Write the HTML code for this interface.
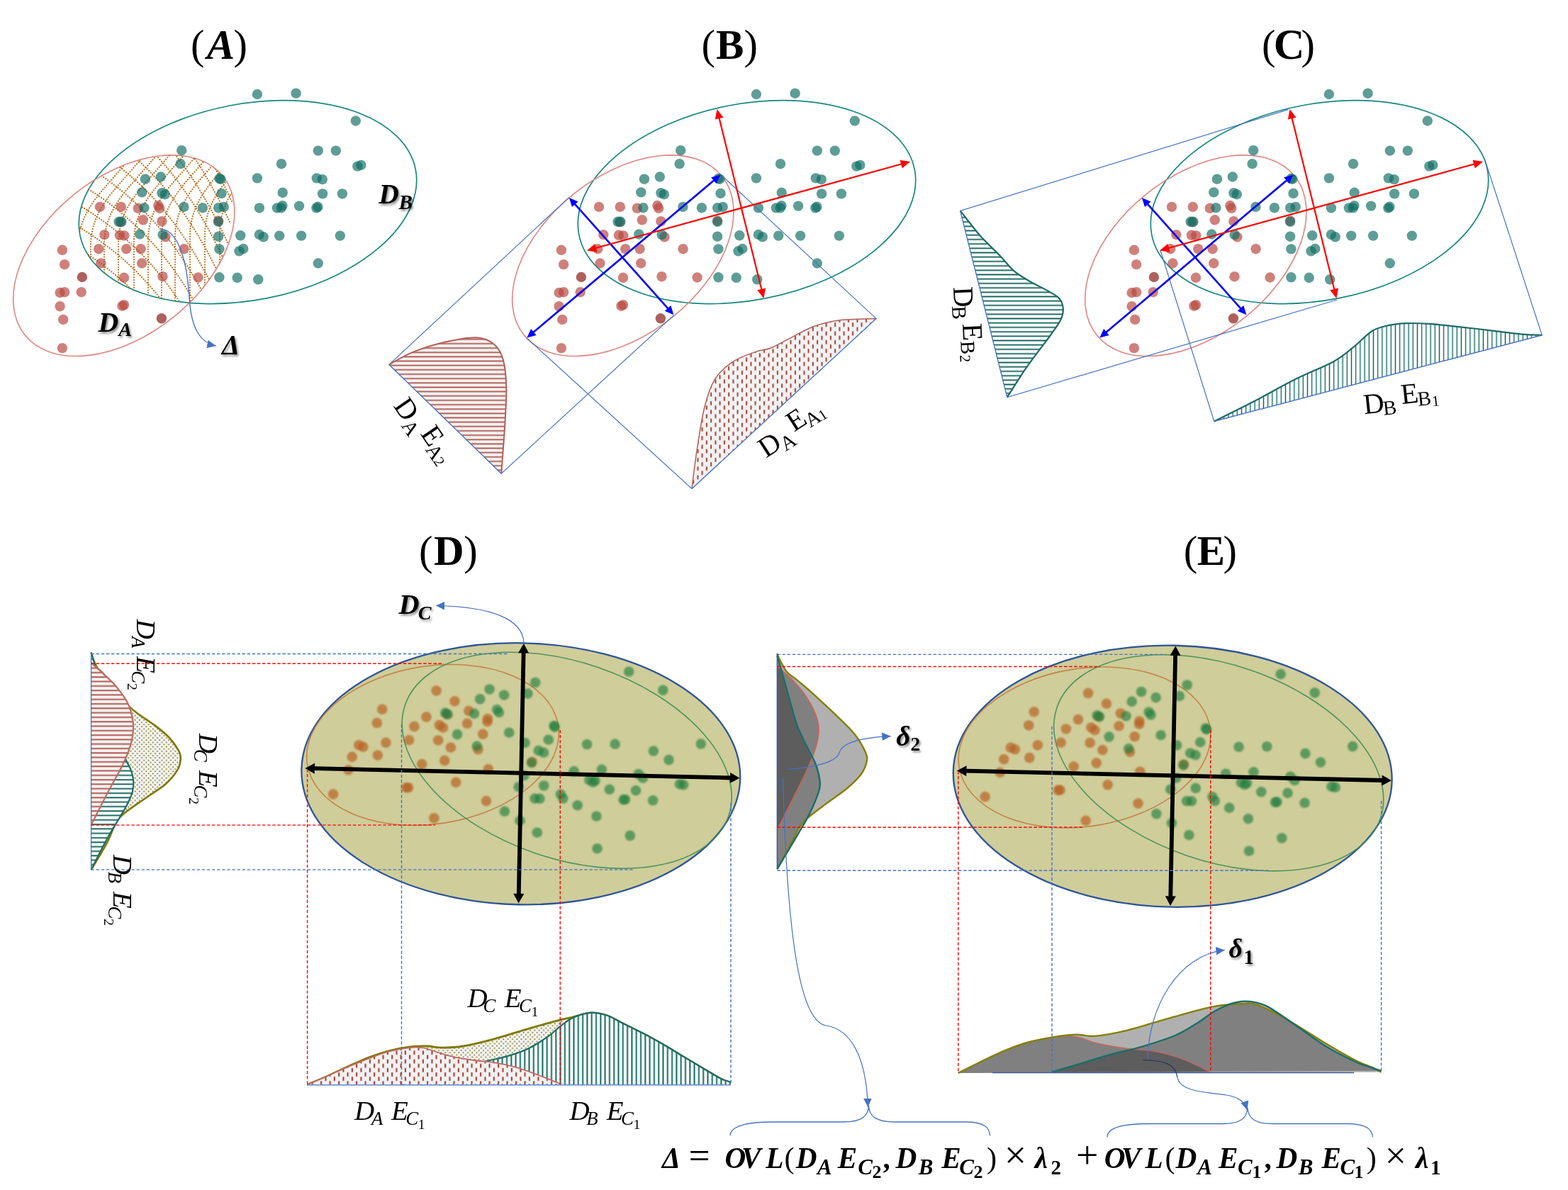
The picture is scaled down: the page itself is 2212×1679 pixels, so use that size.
<!DOCTYPE html>
<html><head><meta charset="utf-8"><title>figure</title>
<style>html,body{margin:0;padding:0;background:#fff;overflow:hidden;}svg{display:block;}</style></head>
<body><svg width="2212" height="1679" viewBox="0 0 2212 1679">
<defs>
<filter id="sh" x="-20%" y="-20%" width="150%" height="150%"><feDropShadow dx="2" dy="2.5" stdDeviation="1.6" flood-color="#000" flood-opacity="0.45"/></filter>
<filter id="soft" x="-30%" y="-30%" width="160%" height="160%"><feGaussianBlur stdDeviation="0.7"/></filter>
<filter id="soft2" x="-30%" y="-30%" width="160%" height="160%"><feGaussianBlur stdDeviation="1.0"/></filter>
<marker id="mB" markerUnits="userSpaceOnUse" markerWidth="12.5" markerHeight="11.5" refX="0.5" refY="5.75" orient="auto-start-reverse" viewBox="0 0 12.5 11.5" overflow="visible"><path d="M0,0 L12.5,5.75 L0,11.5 z" fill="#0000ff"/></marker>
<marker id="mR" markerUnits="userSpaceOnUse" markerWidth="13.5" markerHeight="12" refX="0.5" refY="6.0" orient="auto-start-reverse" viewBox="0 0 13.5 12" overflow="visible"><path d="M0,0 L13.5,6.0 L0,12 z" fill="#ff0000"/></marker>
<marker id="mK" markerUnits="userSpaceOnUse" markerWidth="13.5" markerHeight="15" refX="0.5" refY="7.5" orient="auto-start-reverse" viewBox="0 0 13.5 15" overflow="visible"><path d="M0,0 L13.5,7.5 L0,15 z" fill="#000"/></marker>
<marker id="mL" markerUnits="userSpaceOnUse" markerWidth="12.3" markerHeight="11.7" refX="12.3" refY="5.85" orient="auto-start-reverse" viewBox="0 0 12.3 11.7"><path d="M0,0 L12.3,5.85 L0,11.7 z" fill="#4472c4"/></marker>
<pattern id="pHR" patternUnits="userSpaceOnUse" width="20" height="6.15" y="2.2"><rect width="20" height="6.15" fill="#f2f2f2"/><line x1="0" y1="3" x2="20" y2="3" stroke="#b0544a" stroke-width="1.8"/></pattern>
<pattern id="pHT" patternUnits="userSpaceOnUse" width="20" height="6.2"><rect width="20" height="6.2" fill="#fff"/><line x1="0" y1="3.1" x2="20" y2="3.1" stroke="#0d5f55" stroke-width="1.8"/></pattern>
<pattern id="pVR" patternUnits="userSpaceOnUse" width="12.5" height="12.3"><rect width="12.5" height="12.3" fill="#f2f2f2"/><line x1="3.1" y1="0.2" x2="3.1" y2="6" stroke="#9e2a1f" stroke-width="1.8"/><line x1="9.4" y1="6.35" x2="9.4" y2="12.1" stroke="#9e2a1f" stroke-width="1.8"/></pattern>
<pattern id="pVT" patternUnits="userSpaceOnUse" width="6.2" height="20"><rect width="6.2" height="20" fill="#fff"/><line x1="3.1" y1="0" x2="3.1" y2="20" stroke="#0d6a5e" stroke-width="1.4"/></pattern>
<pattern id="pDO" patternUnits="userSpaceOnUse" width="6.3" height="6.3"><rect width="6.3" height="6.3" fill="#f2f2f2"/><circle cx="1.6" cy="1.6" r="0.95" fill="#746e00"/><circle cx="4.75" cy="4.75" r="0.95" fill="#746e00"/></pattern>
<pattern id="pHR2" patternUnits="userSpaceOnUse" width="20" height="6.3" y="1"><rect width="20" height="6.3" fill="#f2f2f2"/><line x1="0" y1="3" x2="20" y2="3" stroke="#b0544a" stroke-width="1.9"/></pattern>
<pattern id="pHT2" patternUnits="userSpaceOnUse" width="20" height="6.3" y="1"><rect width="20" height="6.3" fill="#fff"/><line x1="0" y1="3" x2="20" y2="3" stroke="#0f6259" stroke-width="1.9"/></pattern>
<pattern id="pVT2" patternUnits="userSpaceOnUse" width="6.3" height="20"><rect width="6.3" height="20" fill="#fff"/><line x1="3.1" y1="0" x2="3.1" y2="20" stroke="#0f6a5f" stroke-width="2"/></pattern>
<pattern id="pVR2" patternUnits="userSpaceOnUse" width="12.5" height="12.3"><rect width="12.5" height="12.3" fill="#f2f2f2"/><line x1="3.1" y1="0.2" x2="3.1" y2="6" stroke="#9e2a1f" stroke-width="1.9"/><line x1="9.4" y1="6.35" x2="9.4" y2="12.1" stroke="#9e2a1f" stroke-width="1.9"/></pattern>
<clipPath id="cRedA"><ellipse cx="174.8" cy="360.7" rx="179.1" ry="111.4" transform="rotate(-38.75 174.8 360.7)" /></clipPath>
<clipPath id="cTealA"><ellipse cx="349.5" cy="285.1" rx="241.2" ry="138.4" transform="rotate(-11.0 349.5 285.1)" /></clipPath>
</defs>
<rect width="2212" height="1679" fill="#fff"/>
<ellipse cx="349.5" cy="285.1" rx="241.2" ry="138.4" transform="rotate(-11.0 349.5 285.1)" fill="none" stroke="#168782" stroke-width="1.7"/>
<ellipse cx="174.8" cy="360.7" rx="179.1" ry="111.4" transform="rotate(-38.75 174.8 360.7)" fill="none" stroke="#df8680" stroke-width="1.6"/>
<ellipse cx="1053.5" cy="285.1" rx="241.2" ry="138.4" transform="rotate(-11.0 1053.5 285.1)" fill="none" stroke="#168782" stroke-width="1.7"/>
<ellipse cx="878.8" cy="360.7" rx="179.1" ry="111.4" transform="rotate(-38.75 878.8 360.7)" fill="none" stroke="#df8680" stroke-width="1.6"/>
<ellipse cx="1861.5" cy="285.1" rx="241.2" ry="138.4" transform="rotate(-11.0 1861.5 285.1)" fill="none" stroke="#168782" stroke-width="1.7"/>
<ellipse cx="1686.8" cy="360.7" rx="179.1" ry="111.4" transform="rotate(-38.75 1686.8 360.7)" fill="none" stroke="#df8680" stroke-width="1.6"/>
<g clip-path="url(#cRedA)"><g clip-path="url(#cTealA)"><path d="M118,-14 C198,30 268,86 333,226 M115,15 C195,59 265,115 330,255 M112,44 C192,88 262,144 327,284 M109,73 C189,117 259,173 324,313 M106,102 C186,146 256,202 321,342 M103,131 C183,175 253,231 318,371 M100,160 C180,204 250,260 315,400 M97,189 C177,233 247,289 312,429 M94,218 C174,262 244,318 309,458 M91,247 C171,291 241,347 306,487 M88,276 C168,320 238,376 303,516 M85,305 C165,349 235,405 300,545 M82,334 C162,378 232,434 297,574 M79,363 C159,407 229,463 294,603 M76,392 C156,436 226,492 291,632 M73,421 C153,465 223,521 288,661 M70,450 C150,494 220,550 285,690 M67,479 C147,523 217,579 282,719 M64,508 C144,552 214,608 279,748 M61,537 C141,581 211,637 276,777 M110,460 L110,350 C110,315 125,290 150,262 L340,44 M128,460 L128,348 C128,313 143,288 168,260 L358,42 M147,460 L147,346 C147,311 162,286 187,258 L377,40 M167,460 L167,344 C167,309 182,284 207,256 L397,38 M189,460 L189,342 C189,307 204,282 229,254 L419,36 M209,460 L209,340 C209,305 224,280 249,252 L439,34 M228,460 L228,338 C228,303 243,278 268,250 L458,32 M247,460 L247,336 C247,301 262,276 287,248 L477,30 M268,460 L268,334 C268,299 283,274 308,246 L498,28 M289,460 L289,332 C289,297 304,272 329,244 L519,26 M310,460 L310,330 C310,295 325,270 350,242 L540,24 M330,460 L330,328 C330,293 345,268 370,240 L560,22" fill="none" stroke="#b0660c" stroke-width="2.1" stroke-dasharray="0.01,3.6" stroke-linecap="round"/></g></g>
<g filter="url(#soft)"><circle cx="141.0" cy="291.9" r="7.2" fill="rgb(184,69,62)" fill-opacity="0.68"/><circle cx="170.8" cy="291.9" r="7.2" fill="rgb(184,69,62)" fill-opacity="0.68"/><circle cx="194.8" cy="293.8" r="7.2" fill="rgb(184,69,62)" fill-opacity="0.68"/><circle cx="223.3" cy="290.0" r="7.2" fill="rgb(184,69,62)" fill-opacity="0.68"/><circle cx="225.2" cy="293.8" r="7.2" fill="rgb(184,69,62)" fill-opacity="0.68"/><circle cx="170.1" cy="313.4" r="7.2" fill="rgb(184,69,62)" fill-opacity="0.68"/><circle cx="201.8" cy="310.3" r="7.2" fill="rgb(184,69,62)" fill-opacity="0.68"/><circle cx="228.4" cy="312.2" r="7.2" fill="rgb(184,69,62)" fill-opacity="0.68"/><circle cx="308.1" cy="311.5" r="7.2" fill="rgb(184,69,62)" fill-opacity="0.68"/><circle cx="147.3" cy="331.1" r="7.2" fill="rgb(184,69,62)" fill-opacity="0.68"/><circle cx="168.9" cy="331.8" r="7.2" fill="rgb(184,69,62)" fill-opacity="0.68"/><circle cx="175.2" cy="332.4" r="7.2" fill="rgb(184,69,62)" fill-opacity="0.68"/><circle cx="233.4" cy="334.3" r="7.2" fill="rgb(184,69,62)" fill-opacity="0.68"/><circle cx="87.9" cy="352.8" r="7.2" fill="rgb(184,69,62)" fill-opacity="0.68"/><circle cx="139.2" cy="351.2" r="7.2" fill="rgb(184,69,62)" fill-opacity="0.68"/><circle cx="178.2" cy="351.2" r="7.2" fill="rgb(184,69,62)" fill-opacity="0.68"/><circle cx="198.6" cy="351.2" r="7.2" fill="rgb(184,69,62)" fill-opacity="0.68"/><circle cx="259.6" cy="351.2" r="7.2" fill="rgb(184,69,62)" fill-opacity="0.68"/><circle cx="91.1" cy="373.1" r="7.2" fill="rgb(184,69,62)" fill-opacity="0.68"/><circle cx="142.4" cy="371.5" r="7.2" fill="rgb(184,69,62)" fill-opacity="0.68"/><circle cx="200.2" cy="371.5" r="7.2" fill="rgb(184,69,62)" fill-opacity="0.68"/><circle cx="115.9" cy="391.0" r="7.2" fill="rgb(160,72,66)" fill-opacity="0.86"/><circle cx="175.0" cy="391.8" r="7.2" fill="rgb(184,69,62)" fill-opacity="0.68"/><circle cx="229.5" cy="390.2" r="7.2" fill="rgb(184,69,62)" fill-opacity="0.68"/><circle cx="279.6" cy="391.5" r="7.2" fill="rgb(184,69,62)" fill-opacity="0.68"/><circle cx="84.6" cy="413.0" r="7.2" fill="rgb(184,69,62)" fill-opacity="0.68"/><circle cx="91.1" cy="412.2" r="7.2" fill="rgb(184,69,62)" fill-opacity="0.68"/><circle cx="114.7" cy="412.2" r="7.2" fill="rgb(184,69,62)" fill-opacity="0.68"/><circle cx="84.6" cy="432.2" r="7.2" fill="rgb(184,69,62)" fill-opacity="0.68"/><circle cx="172.5" cy="431.7" r="7.2" fill="rgb(184,69,62)" fill-opacity="0.68"/><circle cx="175.0" cy="430.1" r="7.2" fill="rgb(184,69,62)" fill-opacity="0.68"/><circle cx="89.2" cy="450.9" r="7.2" fill="rgb(184,69,62)" fill-opacity="0.68"/><circle cx="227.9" cy="449.3" r="7.2" fill="rgb(160,72,66)" fill-opacity="0.86"/><circle cx="87.9" cy="491.1" r="7.2" fill="rgb(184,69,62)" fill-opacity="0.68"/><circle cx="362.9" cy="133.0" r="7.2" fill="rgb(15,110,100)" fill-opacity="0.68"/><circle cx="417.6" cy="131.7" r="7.2" fill="rgb(15,110,100)" fill-opacity="0.68"/><circle cx="501.8" cy="170.5" r="7.2" fill="rgb(15,110,100)" fill-opacity="0.68"/><circle cx="256.2" cy="212.2" r="7.2" fill="rgb(15,110,100)" fill-opacity="0.68"/><circle cx="254.6" cy="231.1" r="7.2" fill="rgb(15,110,100)" fill-opacity="0.68"/><circle cx="448.8" cy="212.6" r="7.2" fill="rgb(15,110,100)" fill-opacity="0.68"/><circle cx="473.8" cy="212.6" r="7.2" fill="rgb(15,110,100)" fill-opacity="0.68"/><circle cx="397.0" cy="231.2" r="7.2" fill="rgb(15,110,100)" fill-opacity="0.68"/><circle cx="504.3" cy="234.6" r="7.2" fill="rgb(15,110,100)" fill-opacity="0.68"/><circle cx="509.3" cy="232.9" r="7.2" fill="rgb(15,110,100)" fill-opacity="0.68"/><circle cx="204.9" cy="252.7" r="7.2" fill="rgb(15,110,100)" fill-opacity="0.68"/><circle cx="226.8" cy="249.5" r="7.2" fill="rgb(15,110,100)" fill-opacity="0.68"/><circle cx="309.4" cy="252.0" r="7.2" fill="rgb(15,110,100)" fill-opacity="0.68"/><circle cx="311.3" cy="252.7" r="7.2" fill="rgb(15,110,100)" fill-opacity="0.68"/><circle cx="362.9" cy="251.4" r="7.2" fill="rgb(15,110,100)" fill-opacity="0.68"/><circle cx="446.8" cy="251.4" r="7.2" fill="rgb(15,110,100)" fill-opacity="0.68"/><circle cx="454.8" cy="253.1" r="7.2" fill="rgb(15,110,100)" fill-opacity="0.68"/><circle cx="200.3" cy="271.4" r="7.2" fill="rgb(15,110,100)" fill-opacity="0.68"/><circle cx="228.4" cy="272.3" r="7.2" fill="rgb(15,110,100)" fill-opacity="0.68"/><circle cx="232.8" cy="274.2" r="7.2" fill="rgb(15,110,100)" fill-opacity="0.68"/><circle cx="312.5" cy="272.9" r="7.2" fill="rgb(15,110,100)" fill-opacity="0.68"/><circle cx="398.7" cy="271.8" r="7.2" fill="rgb(15,110,100)" fill-opacity="0.68"/><circle cx="455.1" cy="273.4" r="7.2" fill="rgb(15,110,100)" fill-opacity="0.68"/><circle cx="482.9" cy="273.4" r="7.2" fill="rgb(15,110,100)" fill-opacity="0.68"/><circle cx="203.4" cy="293.2" r="7.2" fill="rgb(15,110,100)" fill-opacity="0.68"/><circle cx="259.4" cy="291.9" r="7.2" fill="rgb(15,110,100)" fill-opacity="0.68"/><circle cx="285.9" cy="293.2" r="7.2" fill="rgb(15,110,100)" fill-opacity="0.68"/><circle cx="308.1" cy="293.2" r="7.2" fill="rgb(15,110,100)" fill-opacity="0.68"/><circle cx="315.7" cy="291.9" r="7.2" fill="rgb(15,110,100)" fill-opacity="0.68"/><circle cx="365.9" cy="293.4" r="7.2" fill="rgb(15,110,100)" fill-opacity="0.68"/><circle cx="390.9" cy="293.4" r="7.2" fill="rgb(15,110,100)" fill-opacity="0.68"/><circle cx="396.7" cy="293.4" r="7.2" fill="rgb(15,110,100)" fill-opacity="0.68"/><circle cx="398.4" cy="290.1" r="7.2" fill="rgb(15,110,100)" fill-opacity="0.68"/><circle cx="422.1" cy="290.6" r="7.2" fill="rgb(15,110,100)" fill-opacity="0.68"/><circle cx="446.4" cy="293.4" r="7.2" fill="rgb(15,110,100)" fill-opacity="0.68"/><circle cx="448.4" cy="291.8" r="7.2" fill="rgb(15,110,100)" fill-opacity="0.68"/><circle cx="167.6" cy="312.8" r="7.2" fill="rgb(15,110,100)" fill-opacity="0.68"/><circle cx="171.4" cy="312.8" r="7.2" fill="rgb(15,110,100)" fill-opacity="0.68"/><circle cx="308.1" cy="312.8" r="7.2" fill="rgb(15,110,100)" fill-opacity="0.68"/><circle cx="197.3" cy="330.5" r="7.2" fill="rgb(15,110,100)" fill-opacity="0.68"/><circle cx="229.6" cy="331.1" r="7.2" fill="rgb(15,110,100)" fill-opacity="0.68"/><circle cx="308.1" cy="333.7" r="7.2" fill="rgb(15,110,100)" fill-opacity="0.68"/><circle cx="339.2" cy="332.3" r="7.2" fill="rgb(15,110,100)" fill-opacity="0.68"/><circle cx="365.9" cy="331.0" r="7.2" fill="rgb(15,110,100)" fill-opacity="0.68"/><circle cx="371.7" cy="334.3" r="7.2" fill="rgb(15,110,100)" fill-opacity="0.68"/><circle cx="394.2" cy="332.6" r="7.2" fill="rgb(15,110,100)" fill-opacity="0.68"/><circle cx="425.1" cy="332.6" r="7.2" fill="rgb(15,110,100)" fill-opacity="0.68"/><circle cx="479.8" cy="332.6" r="7.2" fill="rgb(15,110,100)" fill-opacity="0.68"/><circle cx="309.4" cy="351.4" r="7.2" fill="rgb(15,110,100)" fill-opacity="0.68"/><circle cx="337.5" cy="354.3" r="7.2" fill="rgb(15,110,100)" fill-opacity="0.68"/><circle cx="343.3" cy="351.0" r="7.2" fill="rgb(15,110,100)" fill-opacity="0.68"/><circle cx="448.8" cy="371.5" r="7.2" fill="rgb(15,110,100)" fill-opacity="0.68"/><circle cx="309.4" cy="391.3" r="7.2" fill="rgb(15,110,100)" fill-opacity="0.68"/><circle cx="334.7" cy="391.8" r="7.2" fill="rgb(15,110,100)" fill-opacity="0.68"/><circle cx="364.2" cy="394.3" r="7.2" fill="rgb(15,110,100)" fill-opacity="0.68"/></g>
<g filter="url(#soft)"><circle cx="845.0" cy="291.9" r="7.2" fill="rgb(184,69,62)" fill-opacity="0.68"/><circle cx="874.8" cy="291.9" r="7.2" fill="rgb(184,69,62)" fill-opacity="0.68"/><circle cx="898.8" cy="293.8" r="7.2" fill="rgb(184,69,62)" fill-opacity="0.68"/><circle cx="927.3" cy="290.0" r="7.2" fill="rgb(184,69,62)" fill-opacity="0.68"/><circle cx="929.2" cy="293.8" r="7.2" fill="rgb(184,69,62)" fill-opacity="0.68"/><circle cx="874.1" cy="313.4" r="7.2" fill="rgb(184,69,62)" fill-opacity="0.68"/><circle cx="905.8" cy="310.3" r="7.2" fill="rgb(184,69,62)" fill-opacity="0.68"/><circle cx="932.4" cy="312.2" r="7.2" fill="rgb(184,69,62)" fill-opacity="0.68"/><circle cx="1012.1" cy="311.5" r="7.2" fill="rgb(184,69,62)" fill-opacity="0.68"/><circle cx="851.3" cy="331.1" r="7.2" fill="rgb(184,69,62)" fill-opacity="0.68"/><circle cx="872.9" cy="331.8" r="7.2" fill="rgb(184,69,62)" fill-opacity="0.68"/><circle cx="879.2" cy="332.4" r="7.2" fill="rgb(184,69,62)" fill-opacity="0.68"/><circle cx="937.4" cy="334.3" r="7.2" fill="rgb(184,69,62)" fill-opacity="0.68"/><circle cx="791.9" cy="352.8" r="7.2" fill="rgb(184,69,62)" fill-opacity="0.68"/><circle cx="843.2" cy="351.2" r="7.2" fill="rgb(184,69,62)" fill-opacity="0.68"/><circle cx="882.2" cy="351.2" r="7.2" fill="rgb(184,69,62)" fill-opacity="0.68"/><circle cx="902.6" cy="351.2" r="7.2" fill="rgb(184,69,62)" fill-opacity="0.68"/><circle cx="963.6" cy="351.2" r="7.2" fill="rgb(184,69,62)" fill-opacity="0.68"/><circle cx="795.1" cy="373.1" r="7.2" fill="rgb(184,69,62)" fill-opacity="0.68"/><circle cx="846.4" cy="371.5" r="7.2" fill="rgb(184,69,62)" fill-opacity="0.68"/><circle cx="904.2" cy="371.5" r="7.2" fill="rgb(184,69,62)" fill-opacity="0.68"/><circle cx="819.9" cy="391.0" r="7.2" fill="rgb(160,72,66)" fill-opacity="0.86"/><circle cx="879.0" cy="391.8" r="7.2" fill="rgb(184,69,62)" fill-opacity="0.68"/><circle cx="933.5" cy="390.2" r="7.2" fill="rgb(184,69,62)" fill-opacity="0.68"/><circle cx="983.6" cy="391.5" r="7.2" fill="rgb(184,69,62)" fill-opacity="0.68"/><circle cx="788.6" cy="413.0" r="7.2" fill="rgb(184,69,62)" fill-opacity="0.68"/><circle cx="795.1" cy="412.2" r="7.2" fill="rgb(184,69,62)" fill-opacity="0.68"/><circle cx="818.7" cy="412.2" r="7.2" fill="rgb(184,69,62)" fill-opacity="0.68"/><circle cx="788.6" cy="432.2" r="7.2" fill="rgb(184,69,62)" fill-opacity="0.68"/><circle cx="876.5" cy="431.7" r="7.2" fill="rgb(184,69,62)" fill-opacity="0.68"/><circle cx="879.0" cy="430.1" r="7.2" fill="rgb(184,69,62)" fill-opacity="0.68"/><circle cx="793.2" cy="450.9" r="7.2" fill="rgb(184,69,62)" fill-opacity="0.68"/><circle cx="931.9" cy="449.3" r="7.2" fill="rgb(160,72,66)" fill-opacity="0.86"/><circle cx="791.9" cy="491.1" r="7.2" fill="rgb(184,69,62)" fill-opacity="0.68"/><circle cx="1066.9" cy="133.0" r="7.2" fill="rgb(15,110,100)" fill-opacity="0.68"/><circle cx="1121.6" cy="131.7" r="7.2" fill="rgb(15,110,100)" fill-opacity="0.68"/><circle cx="1205.8" cy="170.5" r="7.2" fill="rgb(15,110,100)" fill-opacity="0.68"/><circle cx="960.2" cy="212.2" r="7.2" fill="rgb(15,110,100)" fill-opacity="0.68"/><circle cx="958.6" cy="231.1" r="7.2" fill="rgb(15,110,100)" fill-opacity="0.68"/><circle cx="1152.8" cy="212.6" r="7.2" fill="rgb(15,110,100)" fill-opacity="0.68"/><circle cx="1177.8" cy="212.6" r="7.2" fill="rgb(15,110,100)" fill-opacity="0.68"/><circle cx="1101.0" cy="231.2" r="7.2" fill="rgb(15,110,100)" fill-opacity="0.68"/><circle cx="1208.3" cy="234.6" r="7.2" fill="rgb(15,110,100)" fill-opacity="0.68"/><circle cx="1213.3" cy="232.9" r="7.2" fill="rgb(15,110,100)" fill-opacity="0.68"/><circle cx="908.9" cy="252.7" r="7.2" fill="rgb(15,110,100)" fill-opacity="0.68"/><circle cx="930.8" cy="249.5" r="7.2" fill="rgb(15,110,100)" fill-opacity="0.68"/><circle cx="1013.4" cy="252.0" r="7.2" fill="rgb(15,110,100)" fill-opacity="0.68"/><circle cx="1015.3" cy="252.7" r="7.2" fill="rgb(15,110,100)" fill-opacity="0.68"/><circle cx="1066.9" cy="251.4" r="7.2" fill="rgb(15,110,100)" fill-opacity="0.68"/><circle cx="1150.8" cy="251.4" r="7.2" fill="rgb(15,110,100)" fill-opacity="0.68"/><circle cx="1158.8" cy="253.1" r="7.2" fill="rgb(15,110,100)" fill-opacity="0.68"/><circle cx="904.3" cy="271.4" r="7.2" fill="rgb(15,110,100)" fill-opacity="0.68"/><circle cx="932.4" cy="272.3" r="7.2" fill="rgb(15,110,100)" fill-opacity="0.68"/><circle cx="936.8" cy="274.2" r="7.2" fill="rgb(15,110,100)" fill-opacity="0.68"/><circle cx="1016.5" cy="272.9" r="7.2" fill="rgb(15,110,100)" fill-opacity="0.68"/><circle cx="1102.7" cy="271.8" r="7.2" fill="rgb(15,110,100)" fill-opacity="0.68"/><circle cx="1159.1" cy="273.4" r="7.2" fill="rgb(15,110,100)" fill-opacity="0.68"/><circle cx="1186.9" cy="273.4" r="7.2" fill="rgb(15,110,100)" fill-opacity="0.68"/><circle cx="907.4" cy="293.2" r="7.2" fill="rgb(15,110,100)" fill-opacity="0.68"/><circle cx="963.4" cy="291.9" r="7.2" fill="rgb(15,110,100)" fill-opacity="0.68"/><circle cx="989.9" cy="293.2" r="7.2" fill="rgb(15,110,100)" fill-opacity="0.68"/><circle cx="1012.1" cy="293.2" r="7.2" fill="rgb(15,110,100)" fill-opacity="0.68"/><circle cx="1019.7" cy="291.9" r="7.2" fill="rgb(15,110,100)" fill-opacity="0.68"/><circle cx="1069.9" cy="293.4" r="7.2" fill="rgb(15,110,100)" fill-opacity="0.68"/><circle cx="1094.9" cy="293.4" r="7.2" fill="rgb(15,110,100)" fill-opacity="0.68"/><circle cx="1100.7" cy="293.4" r="7.2" fill="rgb(15,110,100)" fill-opacity="0.68"/><circle cx="1102.4" cy="290.1" r="7.2" fill="rgb(15,110,100)" fill-opacity="0.68"/><circle cx="1126.1" cy="290.6" r="7.2" fill="rgb(15,110,100)" fill-opacity="0.68"/><circle cx="1150.4" cy="293.4" r="7.2" fill="rgb(15,110,100)" fill-opacity="0.68"/><circle cx="1152.4" cy="291.8" r="7.2" fill="rgb(15,110,100)" fill-opacity="0.68"/><circle cx="871.6" cy="312.8" r="7.2" fill="rgb(15,110,100)" fill-opacity="0.68"/><circle cx="875.4" cy="312.8" r="7.2" fill="rgb(15,110,100)" fill-opacity="0.68"/><circle cx="1012.1" cy="312.8" r="7.2" fill="rgb(15,110,100)" fill-opacity="0.68"/><circle cx="901.3" cy="330.5" r="7.2" fill="rgb(15,110,100)" fill-opacity="0.68"/><circle cx="933.6" cy="331.1" r="7.2" fill="rgb(15,110,100)" fill-opacity="0.68"/><circle cx="1012.1" cy="333.7" r="7.2" fill="rgb(15,110,100)" fill-opacity="0.68"/><circle cx="1043.2" cy="332.3" r="7.2" fill="rgb(15,110,100)" fill-opacity="0.68"/><circle cx="1069.9" cy="331.0" r="7.2" fill="rgb(15,110,100)" fill-opacity="0.68"/><circle cx="1075.7" cy="334.3" r="7.2" fill="rgb(15,110,100)" fill-opacity="0.68"/><circle cx="1098.2" cy="332.6" r="7.2" fill="rgb(15,110,100)" fill-opacity="0.68"/><circle cx="1129.1" cy="332.6" r="7.2" fill="rgb(15,110,100)" fill-opacity="0.68"/><circle cx="1183.8" cy="332.6" r="7.2" fill="rgb(15,110,100)" fill-opacity="0.68"/><circle cx="1013.4" cy="351.4" r="7.2" fill="rgb(15,110,100)" fill-opacity="0.68"/><circle cx="1041.5" cy="354.3" r="7.2" fill="rgb(15,110,100)" fill-opacity="0.68"/><circle cx="1047.3" cy="351.0" r="7.2" fill="rgb(15,110,100)" fill-opacity="0.68"/><circle cx="1152.8" cy="371.5" r="7.2" fill="rgb(15,110,100)" fill-opacity="0.68"/><circle cx="1013.4" cy="391.3" r="7.2" fill="rgb(15,110,100)" fill-opacity="0.68"/><circle cx="1038.7" cy="391.8" r="7.2" fill="rgb(15,110,100)" fill-opacity="0.68"/><circle cx="1068.2" cy="394.3" r="7.2" fill="rgb(15,110,100)" fill-opacity="0.68"/></g>
<g filter="url(#soft)"><circle cx="1653.0" cy="291.9" r="7.2" fill="rgb(184,69,62)" fill-opacity="0.68"/><circle cx="1682.8" cy="291.9" r="7.2" fill="rgb(184,69,62)" fill-opacity="0.68"/><circle cx="1706.8" cy="293.8" r="7.2" fill="rgb(184,69,62)" fill-opacity="0.68"/><circle cx="1735.3" cy="290.0" r="7.2" fill="rgb(184,69,62)" fill-opacity="0.68"/><circle cx="1737.2" cy="293.8" r="7.2" fill="rgb(184,69,62)" fill-opacity="0.68"/><circle cx="1682.1" cy="313.4" r="7.2" fill="rgb(184,69,62)" fill-opacity="0.68"/><circle cx="1713.8" cy="310.3" r="7.2" fill="rgb(184,69,62)" fill-opacity="0.68"/><circle cx="1740.4" cy="312.2" r="7.2" fill="rgb(184,69,62)" fill-opacity="0.68"/><circle cx="1820.1" cy="311.5" r="7.2" fill="rgb(184,69,62)" fill-opacity="0.68"/><circle cx="1659.3" cy="331.1" r="7.2" fill="rgb(184,69,62)" fill-opacity="0.68"/><circle cx="1680.9" cy="331.8" r="7.2" fill="rgb(184,69,62)" fill-opacity="0.68"/><circle cx="1687.2" cy="332.4" r="7.2" fill="rgb(184,69,62)" fill-opacity="0.68"/><circle cx="1745.4" cy="334.3" r="7.2" fill="rgb(184,69,62)" fill-opacity="0.68"/><circle cx="1599.9" cy="352.8" r="7.2" fill="rgb(184,69,62)" fill-opacity="0.68"/><circle cx="1651.2" cy="351.2" r="7.2" fill="rgb(184,69,62)" fill-opacity="0.68"/><circle cx="1690.2" cy="351.2" r="7.2" fill="rgb(184,69,62)" fill-opacity="0.68"/><circle cx="1710.6" cy="351.2" r="7.2" fill="rgb(184,69,62)" fill-opacity="0.68"/><circle cx="1771.6" cy="351.2" r="7.2" fill="rgb(184,69,62)" fill-opacity="0.68"/><circle cx="1603.1" cy="373.1" r="7.2" fill="rgb(184,69,62)" fill-opacity="0.68"/><circle cx="1654.4" cy="371.5" r="7.2" fill="rgb(184,69,62)" fill-opacity="0.68"/><circle cx="1712.2" cy="371.5" r="7.2" fill="rgb(184,69,62)" fill-opacity="0.68"/><circle cx="1627.9" cy="391.0" r="7.2" fill="rgb(160,72,66)" fill-opacity="0.86"/><circle cx="1687.0" cy="391.8" r="7.2" fill="rgb(184,69,62)" fill-opacity="0.68"/><circle cx="1741.5" cy="390.2" r="7.2" fill="rgb(184,69,62)" fill-opacity="0.68"/><circle cx="1791.6" cy="391.5" r="7.2" fill="rgb(184,69,62)" fill-opacity="0.68"/><circle cx="1596.6" cy="413.0" r="7.2" fill="rgb(184,69,62)" fill-opacity="0.68"/><circle cx="1603.1" cy="412.2" r="7.2" fill="rgb(184,69,62)" fill-opacity="0.68"/><circle cx="1626.7" cy="412.2" r="7.2" fill="rgb(184,69,62)" fill-opacity="0.68"/><circle cx="1596.6" cy="432.2" r="7.2" fill="rgb(184,69,62)" fill-opacity="0.68"/><circle cx="1684.5" cy="431.7" r="7.2" fill="rgb(184,69,62)" fill-opacity="0.68"/><circle cx="1687.0" cy="430.1" r="7.2" fill="rgb(184,69,62)" fill-opacity="0.68"/><circle cx="1601.2" cy="450.9" r="7.2" fill="rgb(184,69,62)" fill-opacity="0.68"/><circle cx="1739.9" cy="449.3" r="7.2" fill="rgb(160,72,66)" fill-opacity="0.86"/><circle cx="1599.9" cy="491.1" r="7.2" fill="rgb(184,69,62)" fill-opacity="0.68"/><circle cx="1874.9" cy="133.0" r="7.2" fill="rgb(15,110,100)" fill-opacity="0.68"/><circle cx="1929.6" cy="131.7" r="7.2" fill="rgb(15,110,100)" fill-opacity="0.68"/><circle cx="2013.8" cy="170.5" r="7.2" fill="rgb(15,110,100)" fill-opacity="0.68"/><circle cx="1768.2" cy="212.2" r="7.2" fill="rgb(15,110,100)" fill-opacity="0.68"/><circle cx="1766.6" cy="231.1" r="7.2" fill="rgb(15,110,100)" fill-opacity="0.68"/><circle cx="1960.8" cy="212.6" r="7.2" fill="rgb(15,110,100)" fill-opacity="0.68"/><circle cx="1985.8" cy="212.6" r="7.2" fill="rgb(15,110,100)" fill-opacity="0.68"/><circle cx="1909.0" cy="231.2" r="7.2" fill="rgb(15,110,100)" fill-opacity="0.68"/><circle cx="2016.3" cy="234.6" r="7.2" fill="rgb(15,110,100)" fill-opacity="0.68"/><circle cx="2021.3" cy="232.9" r="7.2" fill="rgb(15,110,100)" fill-opacity="0.68"/><circle cx="1716.9" cy="252.7" r="7.2" fill="rgb(15,110,100)" fill-opacity="0.68"/><circle cx="1738.8" cy="249.5" r="7.2" fill="rgb(15,110,100)" fill-opacity="0.68"/><circle cx="1821.4" cy="252.0" r="7.2" fill="rgb(15,110,100)" fill-opacity="0.68"/><circle cx="1823.3" cy="252.7" r="7.2" fill="rgb(15,110,100)" fill-opacity="0.68"/><circle cx="1874.9" cy="251.4" r="7.2" fill="rgb(15,110,100)" fill-opacity="0.68"/><circle cx="1958.8" cy="251.4" r="7.2" fill="rgb(15,110,100)" fill-opacity="0.68"/><circle cx="1966.8" cy="253.1" r="7.2" fill="rgb(15,110,100)" fill-opacity="0.68"/><circle cx="1712.3" cy="271.4" r="7.2" fill="rgb(15,110,100)" fill-opacity="0.68"/><circle cx="1740.4" cy="272.3" r="7.2" fill="rgb(15,110,100)" fill-opacity="0.68"/><circle cx="1744.8" cy="274.2" r="7.2" fill="rgb(15,110,100)" fill-opacity="0.68"/><circle cx="1824.5" cy="272.9" r="7.2" fill="rgb(15,110,100)" fill-opacity="0.68"/><circle cx="1910.7" cy="271.8" r="7.2" fill="rgb(15,110,100)" fill-opacity="0.68"/><circle cx="1967.1" cy="273.4" r="7.2" fill="rgb(15,110,100)" fill-opacity="0.68"/><circle cx="1994.9" cy="273.4" r="7.2" fill="rgb(15,110,100)" fill-opacity="0.68"/><circle cx="1715.4" cy="293.2" r="7.2" fill="rgb(15,110,100)" fill-opacity="0.68"/><circle cx="1771.4" cy="291.9" r="7.2" fill="rgb(15,110,100)" fill-opacity="0.68"/><circle cx="1797.9" cy="293.2" r="7.2" fill="rgb(15,110,100)" fill-opacity="0.68"/><circle cx="1820.1" cy="293.2" r="7.2" fill="rgb(15,110,100)" fill-opacity="0.68"/><circle cx="1827.7" cy="291.9" r="7.2" fill="rgb(15,110,100)" fill-opacity="0.68"/><circle cx="1877.9" cy="293.4" r="7.2" fill="rgb(15,110,100)" fill-opacity="0.68"/><circle cx="1902.9" cy="293.4" r="7.2" fill="rgb(15,110,100)" fill-opacity="0.68"/><circle cx="1908.7" cy="293.4" r="7.2" fill="rgb(15,110,100)" fill-opacity="0.68"/><circle cx="1910.4" cy="290.1" r="7.2" fill="rgb(15,110,100)" fill-opacity="0.68"/><circle cx="1934.1" cy="290.6" r="7.2" fill="rgb(15,110,100)" fill-opacity="0.68"/><circle cx="1958.4" cy="293.4" r="7.2" fill="rgb(15,110,100)" fill-opacity="0.68"/><circle cx="1960.4" cy="291.8" r="7.2" fill="rgb(15,110,100)" fill-opacity="0.68"/><circle cx="1679.6" cy="312.8" r="7.2" fill="rgb(15,110,100)" fill-opacity="0.68"/><circle cx="1683.4" cy="312.8" r="7.2" fill="rgb(15,110,100)" fill-opacity="0.68"/><circle cx="1820.1" cy="312.8" r="7.2" fill="rgb(15,110,100)" fill-opacity="0.68"/><circle cx="1709.3" cy="330.5" r="7.2" fill="rgb(15,110,100)" fill-opacity="0.68"/><circle cx="1741.6" cy="331.1" r="7.2" fill="rgb(15,110,100)" fill-opacity="0.68"/><circle cx="1820.1" cy="333.7" r="7.2" fill="rgb(15,110,100)" fill-opacity="0.68"/><circle cx="1851.2" cy="332.3" r="7.2" fill="rgb(15,110,100)" fill-opacity="0.68"/><circle cx="1877.9" cy="331.0" r="7.2" fill="rgb(15,110,100)" fill-opacity="0.68"/><circle cx="1883.7" cy="334.3" r="7.2" fill="rgb(15,110,100)" fill-opacity="0.68"/><circle cx="1906.2" cy="332.6" r="7.2" fill="rgb(15,110,100)" fill-opacity="0.68"/><circle cx="1937.1" cy="332.6" r="7.2" fill="rgb(15,110,100)" fill-opacity="0.68"/><circle cx="1991.8" cy="332.6" r="7.2" fill="rgb(15,110,100)" fill-opacity="0.68"/><circle cx="1821.4" cy="351.4" r="7.2" fill="rgb(15,110,100)" fill-opacity="0.68"/><circle cx="1849.5" cy="354.3" r="7.2" fill="rgb(15,110,100)" fill-opacity="0.68"/><circle cx="1855.3" cy="351.0" r="7.2" fill="rgb(15,110,100)" fill-opacity="0.68"/><circle cx="1960.8" cy="371.5" r="7.2" fill="rgb(15,110,100)" fill-opacity="0.68"/><circle cx="1821.4" cy="391.3" r="7.2" fill="rgb(15,110,100)" fill-opacity="0.68"/><circle cx="1846.7" cy="391.8" r="7.2" fill="rgb(15,110,100)" fill-opacity="0.68"/><circle cx="1876.2" cy="394.3" r="7.2" fill="rgb(15,110,100)" fill-opacity="0.68"/></g>
<path d="M225.8,322.9 C252,324 264,370 267,420 C270,468 285,484 304.5,488" fill="none" stroke="#4472c4" stroke-width="1.4" marker-end="url(#mL)"/>
<text font-family="Liberation Serif, serif" ><tspan x="268.9" y="82.8" font-size="58.5" >(</tspan><tspan x="291.7" y="82.9" font-size="59.1" font-weight="bold" font-style="italic">A</tspan><tspan x="329.6" y="82.8" font-size="58.5" >)</tspan></text>
<text font-family="Liberation Serif, serif" ><tspan x="989.5" y="82.8" font-size="58.5" >(</tspan><tspan x="1010.1" y="82.6" font-size="59.1" font-weight="bold">B</tspan><tspan x="1049.6" y="82.8" font-size="58.5" >)</tspan></text>
<text font-family="Liberation Serif, serif" ><tspan x="1779.9" y="82.8" font-size="58.5" >(</tspan><tspan x="1796.7" y="83.0" font-size="60.3" font-weight="bold">C</tspan><tspan x="1835.5" y="82.8" font-size="58.5" >)</tspan></text>
<text font-family="Liberation Serif, serif" ><tspan x="591.1" y="796.6" font-size="58.6" >(</tspan><tspan x="612.0" y="796.6" font-size="58.9" font-weight="bold">D</tspan><tspan x="654.2" y="796.6" font-size="58.6" >)</tspan></text>
<text font-family="Liberation Serif, serif" ><tspan x="1669.7" y="796.6" font-size="58.6" >(</tspan><tspan x="1688.7" y="796.6" font-size="58.9" font-weight="bold">E</tspan><tspan x="1725.6" y="796.6" font-size="58.6" >)</tspan></text>
<text font-family="Liberation Serif, serif" filter="url(#sh)"><tspan x="138.4" y="467.5" font-size="39.7" font-weight="bold" font-style="italic">D</tspan><tspan x="167.2" y="474.0" font-size="28.3" font-weight="bold" font-style="italic">A</tspan></text>
<text font-family="Liberation Serif, serif" filter="url(#sh)"><tspan x="534.3" y="286.8" font-size="39.5" font-weight="bold" font-style="italic">D</tspan><tspan x="562.4" y="295.0" font-size="29.1" font-weight="bold" font-style="italic">B</tspan></text>
<text font-family="Liberation Serif, serif" filter="url(#sh)"><tspan x="313.1" y="500.1" font-size="39.5" font-weight="bold" font-style="italic">Δ</tspan></text>
<polyline points="802.6,278.6 548.9,514.4 707.2,668.1 950.7,444.6" fill="none" stroke="#4472c4" stroke-width="1.2"/>
<polyline points="742.9,476.8 975.9,689.5 1236.0,449.4 1016.8,246.4" fill="none" stroke="#4472c4" stroke-width="1.2"/>
<path d="M548.9,514.4 C554.6,511.4 569.5,502.0 582.9,496.6 C596.3,491.2 614.4,485.7 629.3,482.3 C644.2,478.9 660.9,475.6 672.2,476.2 C683.5,476.8 691.0,480.7 697.2,485.9 C703.5,491.1 706.9,497.2 709.7,507.3 C712.6,517.4 713.9,531.1 714.3,546.6 C714.7,562.1 713.4,580.0 712.2,600.2 C711.0,620.5 708.0,656.8 707.2,668.1 Z" fill="url(#pHR)" stroke="none"/>
<path d="M548.9,514.4 C554.6,511.4 569.5,502.0 582.9,496.6 C596.3,491.2 614.4,485.7 629.3,482.3 C644.2,478.9 660.9,475.6 672.2,476.2 C683.5,476.8 691.0,480.7 697.2,485.9 C703.5,491.1 706.9,497.2 709.7,507.3 C712.6,517.4 713.9,531.1 714.3,546.6 C714.7,562.1 713.4,580.0 712.2,600.2 C711.0,620.5 708.0,656.8 707.2,668.1" fill="none" stroke="#b35e56" stroke-width="2" stroke-linejoin="round"/>
<line x1="548.9" y1="514.4" x2="707.2" y2="668.1" stroke="#4472c4" stroke-width="1.2"/>
<path d="M975.9,689.5 C977.1,680.6 980.0,654.9 983.0,635.9 C986.0,616.9 989.5,591.9 993.7,575.2 C997.9,558.5 1001.5,546.6 1008.0,535.9 C1014.5,525.2 1023.5,517.4 1033.0,510.9 C1042.5,504.3 1056.3,499.9 1065.2,496.6 C1074.1,493.3 1078.9,494.2 1086.6,491.2 C1094.3,488.2 1101.5,483.8 1111.6,478.7 C1121.7,473.6 1135.5,465.3 1147.4,460.8 C1159.3,456.3 1168.3,453.8 1183.1,451.9 C1197.9,450.0 1227.2,449.8 1236.0,449.4 Z" fill="url(#pVR)" stroke="none"/>
<path d="M975.9,689.5 C977.1,680.6 980.0,654.9 983.0,635.9 C986.0,616.9 989.5,591.9 993.7,575.2 C997.9,558.5 1001.5,546.6 1008.0,535.9 C1014.5,525.2 1023.5,517.4 1033.0,510.9 C1042.5,504.3 1056.3,499.9 1065.2,496.6 C1074.1,493.3 1078.9,494.2 1086.6,491.2 C1094.3,488.2 1101.5,483.8 1111.6,478.7 C1121.7,473.6 1135.5,465.3 1147.4,460.8 C1159.3,456.3 1168.3,453.8 1183.1,451.9 C1197.9,450.0 1227.2,449.8 1236.0,449.4" fill="none" stroke="#b35e56" stroke-width="1.5" stroke-linejoin="round"/>
<line x1="975.9" y1="689.5" x2="1236" y2="449.4" stroke="#4472c4" stroke-width="1.2"/>
<polyline points="1817.3,154.6 1354.7,297.4 1420.9,560.5 1886.2,423.0" fill="none" stroke="#4472c4" stroke-width="1.2"/>
<polyline points="1637.0,353.2 1712.8,594.4 2175.3,472.8 2094.8,225.6" fill="none" stroke="#4472c4" stroke-width="1.2"/>
<path d="M1354.7,297.4 C1359.5,303.4 1374.3,323.1 1383.6,333.6 C1392.9,344.1 1402.7,352.3 1410.4,360.4 C1418.1,368.4 1423.2,375.9 1430.0,381.9 C1436.8,387.9 1443.5,391.4 1451.5,396.2 C1459.5,401.0 1471.1,406.3 1478.3,410.5 C1485.5,414.7 1490.8,417.0 1494.4,421.2 C1498.0,425.4 1499.5,430.4 1499.8,435.5 C1500.1,440.6 1499.2,445.2 1496.2,451.5 C1493.2,457.8 1487.0,465.9 1481.9,473.0 C1476.8,480.1 1471.8,486.4 1465.8,494.4 C1459.8,502.4 1453.7,510.2 1446.2,521.2 C1438.7,532.2 1425.1,554.0 1420.9,560.5 Z" fill="url(#pHT)" stroke="none"/>
<path d="M1354.7,297.4 C1359.5,303.4 1374.3,323.1 1383.6,333.6 C1392.9,344.1 1402.7,352.3 1410.4,360.4 C1418.1,368.4 1423.2,375.9 1430.0,381.9 C1436.8,387.9 1443.5,391.4 1451.5,396.2 C1459.5,401.0 1471.1,406.3 1478.3,410.5 C1485.5,414.7 1490.8,417.0 1494.4,421.2 C1498.0,425.4 1499.5,430.4 1499.8,435.5 C1500.1,440.6 1499.2,445.2 1496.2,451.5 C1493.2,457.8 1487.0,465.9 1481.9,473.0 C1476.8,480.1 1471.8,486.4 1465.8,494.4 C1459.8,502.4 1453.7,510.2 1446.2,521.2 C1438.7,532.2 1425.1,554.0 1420.9,560.5" fill="none" stroke="#1e6b67" stroke-width="2.2" stroke-linejoin="round"/>
<line x1="1354.7" y1="297.4" x2="1420.9" y2="560.5" stroke="#4472c4" stroke-width="1.2"/>
<path d="M1712.8,594.4 C1722.1,589.8 1749.3,576.5 1768.6,566.5 C1787.9,556.5 1809.8,543.9 1828.4,534.6 C1847.0,525.3 1866.9,518.0 1880.2,510.7 C1893.5,503.4 1898.9,498.0 1908.2,490.7 C1917.5,483.4 1927.5,472.1 1936.1,466.8 C1944.7,461.5 1952.0,460.7 1960.0,458.9 C1968.0,457.1 1974.6,456.4 1983.9,456.1 C1993.2,455.8 2003.8,456.1 2015.8,456.9 C2027.8,457.7 2040.4,459.2 2055.7,460.9 C2071.0,462.5 2092.2,465.0 2107.5,466.8 C2122.8,468.6 2136.1,470.6 2147.4,471.6 C2158.7,472.6 2170.7,472.6 2175.3,472.8 Z" fill="url(#pVT)" stroke="none"/>
<path d="M1712.8,594.4 C1722.1,589.8 1749.3,576.5 1768.6,566.5 C1787.9,556.5 1809.8,543.9 1828.4,534.6 C1847.0,525.3 1866.9,518.0 1880.2,510.7 C1893.5,503.4 1898.9,498.0 1908.2,490.7 C1917.5,483.4 1927.5,472.1 1936.1,466.8 C1944.7,461.5 1952.0,460.7 1960.0,458.9 C1968.0,457.1 1974.6,456.4 1983.9,456.1 C1993.2,455.8 2003.8,456.1 2015.8,456.9 C2027.8,457.7 2040.4,459.2 2055.7,460.9 C2071.0,462.5 2092.2,465.0 2107.5,466.8 C2122.8,468.6 2136.1,470.6 2147.4,471.6 C2158.7,472.6 2170.7,472.6 2175.3,472.8" fill="none" stroke="#1e6b67" stroke-width="2.2" stroke-linejoin="round"/>
<line x1="1712.8" y1="594.4" x2="2175.3" y2="472.8" stroke="#4472c4" stroke-width="1.2"/>
<line x1="810.9" y1="287.9" x2="942.4" y2="435.3" stroke="#0000ff" stroke-width="2.6" marker-start="url(#mB)" marker-end="url(#mB)"/>
<line x1="752.5" y1="468.8" x2="1007.2" y2="254.4" stroke="#0000ff" stroke-width="2.6" marker-start="url(#mB)" marker-end="url(#mB)"/>
<line x1="840.5" y1="350.0" x2="1271.6" y2="231.5" stroke="#ff0000" stroke-width="2.2" marker-start="url(#mR)" marker-end="url(#mR)"/>
<line x1="1014.6" y1="166.7" x2="1074.3" y2="408.3" stroke="#ff0000" stroke-width="2.2" marker-start="url(#mR)" marker-end="url(#mR)"/>
<line x1="1618.9" y1="287.9" x2="1750.4" y2="435.3" stroke="#0000ff" stroke-width="2.6" marker-start="url(#mB)" marker-end="url(#mB)"/>
<line x1="1560.5" y1="468.8" x2="1815.2" y2="254.4" stroke="#0000ff" stroke-width="2.6" marker-start="url(#mB)" marker-end="url(#mB)"/>
<line x1="1648.5" y1="350.0" x2="2079.6" y2="231.5" stroke="#ff0000" stroke-width="2.2" marker-start="url(#mR)" marker-end="url(#mR)"/>
<line x1="1822.6" y1="166.7" x2="1882.3" y2="408.3" stroke="#ff0000" stroke-width="2.2" marker-start="url(#mR)" marker-end="url(#mR)"/>
<g font-family="Liberation Serif, serif"><text transform="translate(573.3,577.2) rotate(56)" x="-14.5" y="13.3" font-size="40.5" >D</text><text transform="translate(578.9,603.8) rotate(56)" x="-10.4" y="9.5" font-size="28.8" >A</text><text transform="translate(610.0,614.1) rotate(56)" x="-11.9" y="13.3" font-size="40.5" >E</text><text transform="translate(612.9,637.5) rotate(56)" x="-10.4" y="9.5" font-size="28.8" >A</text><text transform="translate(619.4,651.3) rotate(56)" x="-5.2" y="7.0" font-size="21.2" >2</text></g>
<g font-family="Liberation Serif, serif"><text transform="translate(1085.4,627.6) rotate(-33)" x="-14.5" y="13.3" font-size="40.5" >D</text><text transform="translate(1111.8,623.6) rotate(-33)" x="-10.4" y="9.5" font-size="28.8" >A</text><text transform="translate(1122.7,592.4) rotate(-33)" x="-11.9" y="13.3" font-size="40.5" >E</text><text transform="translate(1146.6,590.4) rotate(-33)" x="-10.4" y="9.5" font-size="28.8" >A</text><text transform="translate(1160.8,585.1) rotate(-33)" x="-5.6" y="7.0" font-size="21.2" >1</text></g>
<g font-family="Liberation Serif, serif"><text transform="translate(1358.9,418.9) rotate(87.6)" x="-14.5" y="13.3" font-size="40.5" >D</text><text transform="translate(1352.9,441.1) rotate(87.6)" x="-9.4" y="9.4" font-size="28.8" >B</text><text transform="translate(1371.8,468.0) rotate(87.6)" x="-11.9" y="13.3" font-size="40.5" >E</text><text transform="translate(1365.0,490.2) rotate(87.6)" x="-9.4" y="9.4" font-size="28.8" >B</text><text transform="translate(1361.4,505.8) rotate(87.6)" x="-5.2" y="7.0" font-size="21.2" >2</text></g>
<g font-family="Liberation Serif, serif"><text transform="translate(1937.8,569.4) rotate(-6)" x="-14.5" y="13.3" font-size="40.5" >D</text><text transform="translate(1960.3,575.5) rotate(-6)" x="-9.4" y="9.4" font-size="28.8" >B</text><text transform="translate(1988.0,555.6) rotate(-6)" x="-11.9" y="13.3" font-size="40.5" >E</text><text transform="translate(2009.2,562.5) rotate(-6)" x="-9.4" y="9.4" font-size="28.8" >B</text><text transform="translate(2025.6,565.6) rotate(-6)" x="-5.6" y="7.0" font-size="21.2" >1</text></g>
<ellipse cx="734.8" cy="1091.8" rx="309.5" ry="184.5" transform="rotate(1.2 734.8 1091.8)" fill="#cfcd9a" stroke="#2f5597" stroke-width="2.3"/>
<ellipse cx="610.5" cy="1051.0" rx="179.1" ry="111.4" transform="rotate(-8.784862331017063 610.5 1051.0)" fill="none" stroke="#c27c3e" stroke-width="1.6" stroke-opacity="0.9"/>
<ellipse cx="799.7" cy="1072.8" rx="241.2" ry="138.4" transform="rotate(18.965137668982937 799.7 1072.8)" fill="none" stroke="#3f8e54" stroke-width="1.6" stroke-opacity="0.9"/>
<g filter="url(#soft2)"><circle cx="615.6" cy="974.5" r="7.3" fill="rgb(182,98,35)" fill-opacity="0.7"/><circle cx="641.4" cy="989.4" r="7.3" fill="rgb(182,98,35)" fill-opacity="0.7"/><circle cx="661.3" cy="1003.1" r="7.3" fill="rgb(182,98,35)" fill-opacity="0.7"/><circle cx="687.9" cy="1014.0" r="7.3" fill="rgb(182,98,35)" fill-opacity="0.7"/><circle cx="687.6" cy="1018.2" r="7.3" fill="rgb(182,98,35)" fill-opacity="0.7"/><circle cx="630.1" cy="1007.7" r="7.3" fill="rgb(182,98,35)" fill-opacity="0.7"/><circle cx="659.1" cy="1020.8" r="7.3" fill="rgb(182,98,35)" fill-opacity="0.7"/><circle cx="681.2" cy="1035.8" r="7.3" fill="rgb(182,98,35)" fill-opacity="0.7"/><circle cx="750.6" cy="1075.0" r="7.3" fill="rgb(182,98,35)" fill-opacity="0.7"/><circle cx="601.5" cy="1011.6" r="7.3" fill="rgb(182,98,35)" fill-opacity="0.7"/><circle cx="619.9" cy="1023.0" r="7.3" fill="rgb(182,98,35)" fill-opacity="0.7"/><circle cx="625.0" cy="1026.7" r="7.3" fill="rgb(182,98,35)" fill-opacity="0.7"/><circle cx="674.5" cy="1057.4" r="7.3" fill="rgb(182,98,35)" fill-opacity="0.7"/><circle cx="539.2" cy="1000.8" r="7.3" fill="rgb(182,98,35)" fill-opacity="0.7"/><circle cx="584.4" cy="1025.0" r="7.3" fill="rgb(182,98,35)" fill-opacity="0.7"/><circle cx="618.2" cy="1044.5" r="7.3" fill="rgb(182,98,35)" fill-opacity="0.7"/><circle cx="635.9" cy="1054.7" r="7.3" fill="rgb(182,98,35)" fill-opacity="0.7"/><circle cx="688.8" cy="1085.2" r="7.3" fill="rgb(182,98,35)" fill-opacity="0.7"/><circle cx="531.8" cy="1020.0" r="7.3" fill="rgb(182,98,35)" fill-opacity="0.7"/><circle cx="577.1" cy="1044.2" r="7.3" fill="rgb(182,98,35)" fill-opacity="0.7"/><circle cx="627.2" cy="1073.1" r="7.3" fill="rgb(182,98,35)" fill-opacity="0.7"/><circle cx="544.4" cy="1047.9" r="7.3" fill="rgb(182,98,35)" fill-opacity="0.7"/><circle cx="595.2" cy="1078.1" r="7.3" fill="rgb(182,98,35)" fill-opacity="0.7"/><circle cx="643.2" cy="1103.9" r="7.3" fill="rgb(182,98,35)" fill-opacity="0.7"/><circle cx="686.0" cy="1130.1" r="7.3" fill="rgb(182,98,35)" fill-opacity="0.7"/><circle cx="506.3" cy="1051.3" r="7.3" fill="rgb(182,98,35)" fill-opacity="0.7"/><circle cx="512.3" cy="1053.8" r="7.3" fill="rgb(182,98,35)" fill-opacity="0.7"/><circle cx="532.8" cy="1065.6" r="7.3" fill="rgb(182,98,35)" fill-opacity="0.7"/><circle cx="496.7" cy="1067.9" r="7.3" fill="rgb(182,98,35)" fill-opacity="0.7"/><circle cx="573.1" cy="1111.4" r="7.3" fill="rgb(182,98,35)" fill-opacity="0.7"/><circle cx="576.1" cy="1111.2" r="7.3" fill="rgb(182,98,35)" fill-opacity="0.7"/><circle cx="491.3" cy="1086.4" r="7.3" fill="rgb(182,98,35)" fill-opacity="0.7"/><circle cx="612.3" cy="1154.3" r="7.3" fill="rgb(182,98,35)" fill-opacity="0.7"/><circle cx="470.1" cy="1120.6" r="7.3" fill="rgb(182,98,35)" fill-opacity="0.7"/><circle cx="887.2" cy="947.7" r="7.3" fill="rgb(40,128,62)" fill-opacity="0.66"/><circle cx="935.3" cy="973.9" r="7.3" fill="rgb(40,128,62)" fill-opacity="0.66"/><circle cx="988.8" cy="1049.6" r="7.3" fill="rgb(40,128,62)" fill-opacity="0.66"/><circle cx="755.2" cy="963.0" r="7.3" fill="rgb(40,128,62)" fill-opacity="0.66"/><circle cx="744.4" cy="978.6" r="7.3" fill="rgb(40,128,62)" fill-opacity="0.66"/><circle cx="921.9" cy="1059.6" r="7.3" fill="rgb(40,128,62)" fill-opacity="0.66"/><circle cx="943.5" cy="1072.1" r="7.3" fill="rgb(40,128,62)" fill-opacity="0.66"/><circle cx="867.7" cy="1049.8" r="7.3" fill="rgb(40,128,62)" fill-opacity="0.66"/><circle cx="959.0" cy="1106.4" r="7.3" fill="rgb(40,128,62)" fill-opacity="0.66"/><circle cx="964.2" cy="1107.4" r="7.3" fill="rgb(40,128,62)" fill-opacity="0.66"/><circle cx="690.6" cy="972.5" r="7.3" fill="rgb(40,128,62)" fill-opacity="0.66"/><circle cx="711.1" cy="980.7" r="7.3" fill="rgb(40,128,62)" fill-opacity="0.66"/><circle cx="781.4" cy="1024.1" r="7.3" fill="rgb(40,128,62)" fill-opacity="0.66"/><circle cx="782.7" cy="1025.6" r="7.3" fill="rgb(40,128,62)" fill-opacity="0.66"/><circle cx="828.1" cy="1050.3" r="7.3" fill="rgb(40,128,62)" fill-opacity="0.66"/><circle cx="900.8" cy="1092.2" r="7.3" fill="rgb(40,128,62)" fill-opacity="0.66"/><circle cx="906.9" cy="1097.7" r="7.3" fill="rgb(40,128,62)" fill-opacity="0.66"/><circle cx="677.2" cy="986.4" r="7.3" fill="rgb(40,128,62)" fill-opacity="0.66"/><circle cx="701.1" cy="1001.2" r="7.3" fill="rgb(40,128,62)" fill-opacity="0.66"/><circle cx="704.0" cy="1005.1" r="7.3" fill="rgb(40,128,62)" fill-opacity="0.66"/><circle cx="773.7" cy="1043.7" r="7.3" fill="rgb(40,128,62)" fill-opacity="0.66"/><circle cx="848.9" cy="1085.8" r="7.3" fill="rgb(40,128,62)" fill-opacity="0.66"/><circle cx="897.0" cy="1115.4" r="7.3" fill="rgb(40,128,62)" fill-opacity="0.66"/><circle cx="921.1" cy="1129.3" r="7.3" fill="rgb(40,128,62)" fill-opacity="0.66"/><circle cx="669.0" cy="1006.8" r="7.3" fill="rgb(40,128,62)" fill-opacity="0.66"/><circle cx="718.2" cy="1033.7" r="7.3" fill="rgb(40,128,62)" fill-opacity="0.66"/><circle cx="740.5" cy="1048.0" r="7.3" fill="rgb(40,128,62)" fill-opacity="0.66"/><circle cx="759.7" cy="1059.1" r="7.3" fill="rgb(40,128,62)" fill-opacity="0.66"/><circle cx="767.0" cy="1061.8" r="7.3" fill="rgb(40,128,62)" fill-opacity="0.66"/><circle cx="809.7" cy="1088.2" r="7.3" fill="rgb(40,128,62)" fill-opacity="0.66"/><circle cx="831.4" cy="1100.7" r="7.3" fill="rgb(40,128,62)" fill-opacity="0.66"/><circle cx="836.4" cy="1103.6" r="7.3" fill="rgb(40,128,62)" fill-opacity="0.66"/><circle cx="839.5" cy="1101.5" r="7.3" fill="rgb(40,128,62)" fill-opacity="0.66"/><circle cx="859.8" cy="1113.8" r="7.3" fill="rgb(40,128,62)" fill-opacity="0.66"/><circle cx="879.5" cy="1128.4" r="7.3" fill="rgb(40,128,62)" fill-opacity="0.66"/><circle cx="882.0" cy="1128.0" r="7.3" fill="rgb(40,128,62)" fill-opacity="0.66"/><circle cx="628.2" cy="1005.9" r="7.3" fill="rgb(40,128,62)" fill-opacity="0.66"/><circle cx="631.5" cy="1007.8" r="7.3" fill="rgb(40,128,62)" fill-opacity="0.66"/><circle cx="749.9" cy="1076.1" r="7.3" fill="rgb(40,128,62)" fill-opacity="0.66"/><circle cx="645.1" cy="1036.1" r="7.3" fill="rgb(40,128,62)" fill-opacity="0.66"/><circle cx="672.8" cy="1052.8" r="7.3" fill="rgb(40,128,62)" fill-opacity="0.66"/><circle cx="739.5" cy="1094.2" r="7.3" fill="rgb(40,128,62)" fill-opacity="0.66"/><circle cx="767.2" cy="1108.5" r="7.3" fill="rgb(40,128,62)" fill-opacity="0.66"/><circle cx="790.9" cy="1120.7" r="7.3" fill="rgb(40,128,62)" fill-opacity="0.66"/><circle cx="794.3" cy="1126.5" r="7.3" fill="rgb(40,128,62)" fill-opacity="0.66"/><circle cx="814.7" cy="1136.3" r="7.3" fill="rgb(40,128,62)" fill-opacity="0.66"/><circle cx="841.4" cy="1151.7" r="7.3" fill="rgb(40,128,62)" fill-opacity="0.66"/><circle cx="888.8" cy="1179.0" r="7.3" fill="rgb(40,128,62)" fill-opacity="0.66"/><circle cx="731.8" cy="1110.2" r="7.3" fill="rgb(40,128,62)" fill-opacity="0.66"/><circle cx="754.7" cy="1126.7" r="7.3" fill="rgb(40,128,62)" fill-opacity="0.66"/><circle cx="761.4" cy="1126.8" r="7.3" fill="rgb(40,128,62)" fill-opacity="0.66"/><circle cx="842.5" cy="1197.2" r="7.3" fill="rgb(40,128,62)" fill-opacity="0.66"/><circle cx="711.9" cy="1144.8" r="7.3" fill="rgb(40,128,62)" fill-opacity="0.66"/><circle cx="733.5" cy="1157.8" r="7.3" fill="rgb(40,128,62)" fill-opacity="0.66"/><circle cx="757.8" cy="1174.7" r="7.3" fill="rgb(40,128,62)" fill-opacity="0.66"/></g>
<line x1="1030.5" y1="1097.5" x2="443.4" y2="1084.2" stroke="#000" stroke-width="5.8" marker-start="url(#mK)" marker-end="url(#mK)"/>
<line x1="738.6" y1="920.9" x2="731.8" y2="1261.4" stroke="#000" stroke-width="5.8" marker-start="url(#mK)" marker-end="url(#mK)"/>
<ellipse cx="1654.2" cy="1095.2" rx="309.5" ry="184.5" transform="rotate(1.2 1654.2 1095.2)" fill="#cfcd9a" stroke="#2f5597" stroke-width="2.3"/>
<ellipse cx="1530.0" cy="1054.5" rx="179.1" ry="111.4" transform="rotate(-8.784862331017063 1530.0 1054.5)" fill="none" stroke="#c27c3e" stroke-width="1.6" stroke-opacity="0.9"/>
<ellipse cx="1719.2" cy="1076.3" rx="241.2" ry="138.4" transform="rotate(18.965137668982937 1719.2 1076.3)" fill="none" stroke="#3f8e54" stroke-width="1.6" stroke-opacity="0.9"/>
<g filter="url(#soft2)"><circle cx="1535.1" cy="978.0" r="7.3" fill="rgb(182,98,35)" fill-opacity="0.7"/><circle cx="1560.9" cy="992.9" r="7.3" fill="rgb(182,98,35)" fill-opacity="0.7"/><circle cx="1580.8" cy="1006.6" r="7.3" fill="rgb(182,98,35)" fill-opacity="0.7"/><circle cx="1607.4" cy="1017.5" r="7.3" fill="rgb(182,98,35)" fill-opacity="0.7"/><circle cx="1607.1" cy="1021.7" r="7.3" fill="rgb(182,98,35)" fill-opacity="0.7"/><circle cx="1549.6" cy="1011.2" r="7.3" fill="rgb(182,98,35)" fill-opacity="0.7"/><circle cx="1578.6" cy="1024.3" r="7.3" fill="rgb(182,98,35)" fill-opacity="0.7"/><circle cx="1600.7" cy="1039.3" r="7.3" fill="rgb(182,98,35)" fill-opacity="0.7"/><circle cx="1670.1" cy="1078.5" r="7.3" fill="rgb(182,98,35)" fill-opacity="0.7"/><circle cx="1521.0" cy="1015.1" r="7.3" fill="rgb(182,98,35)" fill-opacity="0.7"/><circle cx="1539.4" cy="1026.5" r="7.3" fill="rgb(182,98,35)" fill-opacity="0.7"/><circle cx="1544.5" cy="1030.2" r="7.3" fill="rgb(182,98,35)" fill-opacity="0.7"/><circle cx="1594.0" cy="1060.9" r="7.3" fill="rgb(182,98,35)" fill-opacity="0.7"/><circle cx="1458.7" cy="1004.3" r="7.3" fill="rgb(182,98,35)" fill-opacity="0.7"/><circle cx="1503.9" cy="1028.5" r="7.3" fill="rgb(182,98,35)" fill-opacity="0.7"/><circle cx="1537.7" cy="1048.0" r="7.3" fill="rgb(182,98,35)" fill-opacity="0.7"/><circle cx="1555.4" cy="1058.2" r="7.3" fill="rgb(182,98,35)" fill-opacity="0.7"/><circle cx="1608.3" cy="1088.7" r="7.3" fill="rgb(182,98,35)" fill-opacity="0.7"/><circle cx="1451.3" cy="1023.5" r="7.3" fill="rgb(182,98,35)" fill-opacity="0.7"/><circle cx="1496.6" cy="1047.7" r="7.3" fill="rgb(182,98,35)" fill-opacity="0.7"/><circle cx="1546.7" cy="1076.6" r="7.3" fill="rgb(182,98,35)" fill-opacity="0.7"/><circle cx="1463.9" cy="1051.4" r="7.3" fill="rgb(182,98,35)" fill-opacity="0.7"/><circle cx="1514.7" cy="1081.6" r="7.3" fill="rgb(182,98,35)" fill-opacity="0.7"/><circle cx="1562.7" cy="1107.4" r="7.3" fill="rgb(182,98,35)" fill-opacity="0.7"/><circle cx="1605.5" cy="1133.6" r="7.3" fill="rgb(182,98,35)" fill-opacity="0.7"/><circle cx="1425.8" cy="1054.8" r="7.3" fill="rgb(182,98,35)" fill-opacity="0.7"/><circle cx="1431.8" cy="1057.3" r="7.3" fill="rgb(182,98,35)" fill-opacity="0.7"/><circle cx="1452.3" cy="1069.1" r="7.3" fill="rgb(182,98,35)" fill-opacity="0.7"/><circle cx="1416.2" cy="1071.4" r="7.3" fill="rgb(182,98,35)" fill-opacity="0.7"/><circle cx="1492.6" cy="1114.9" r="7.3" fill="rgb(182,98,35)" fill-opacity="0.7"/><circle cx="1495.6" cy="1114.7" r="7.3" fill="rgb(182,98,35)" fill-opacity="0.7"/><circle cx="1410.8" cy="1089.9" r="7.3" fill="rgb(182,98,35)" fill-opacity="0.7"/><circle cx="1531.8" cy="1157.8" r="7.3" fill="rgb(182,98,35)" fill-opacity="0.7"/><circle cx="1389.6" cy="1124.1" r="7.3" fill="rgb(182,98,35)" fill-opacity="0.7"/><circle cx="1806.7" cy="951.2" r="7.3" fill="rgb(40,128,62)" fill-opacity="0.66"/><circle cx="1854.8" cy="977.4" r="7.3" fill="rgb(40,128,62)" fill-opacity="0.66"/><circle cx="1908.3" cy="1053.1" r="7.3" fill="rgb(40,128,62)" fill-opacity="0.66"/><circle cx="1674.7" cy="966.5" r="7.3" fill="rgb(40,128,62)" fill-opacity="0.66"/><circle cx="1663.9" cy="982.1" r="7.3" fill="rgb(40,128,62)" fill-opacity="0.66"/><circle cx="1841.4" cy="1063.1" r="7.3" fill="rgb(40,128,62)" fill-opacity="0.66"/><circle cx="1863.0" cy="1075.6" r="7.3" fill="rgb(40,128,62)" fill-opacity="0.66"/><circle cx="1787.2" cy="1053.3" r="7.3" fill="rgb(40,128,62)" fill-opacity="0.66"/><circle cx="1878.5" cy="1109.9" r="7.3" fill="rgb(40,128,62)" fill-opacity="0.66"/><circle cx="1883.7" cy="1110.9" r="7.3" fill="rgb(40,128,62)" fill-opacity="0.66"/><circle cx="1610.1" cy="976.0" r="7.3" fill="rgb(40,128,62)" fill-opacity="0.66"/><circle cx="1630.6" cy="984.2" r="7.3" fill="rgb(40,128,62)" fill-opacity="0.66"/><circle cx="1700.9" cy="1027.6" r="7.3" fill="rgb(40,128,62)" fill-opacity="0.66"/><circle cx="1702.2" cy="1029.1" r="7.3" fill="rgb(40,128,62)" fill-opacity="0.66"/><circle cx="1747.6" cy="1053.8" r="7.3" fill="rgb(40,128,62)" fill-opacity="0.66"/><circle cx="1820.3" cy="1095.7" r="7.3" fill="rgb(40,128,62)" fill-opacity="0.66"/><circle cx="1826.4" cy="1101.2" r="7.3" fill="rgb(40,128,62)" fill-opacity="0.66"/><circle cx="1596.7" cy="989.9" r="7.3" fill="rgb(40,128,62)" fill-opacity="0.66"/><circle cx="1620.6" cy="1004.7" r="7.3" fill="rgb(40,128,62)" fill-opacity="0.66"/><circle cx="1623.5" cy="1008.6" r="7.3" fill="rgb(40,128,62)" fill-opacity="0.66"/><circle cx="1693.2" cy="1047.2" r="7.3" fill="rgb(40,128,62)" fill-opacity="0.66"/><circle cx="1768.4" cy="1089.3" r="7.3" fill="rgb(40,128,62)" fill-opacity="0.66"/><circle cx="1816.5" cy="1118.9" r="7.3" fill="rgb(40,128,62)" fill-opacity="0.66"/><circle cx="1840.6" cy="1132.8" r="7.3" fill="rgb(40,128,62)" fill-opacity="0.66"/><circle cx="1588.5" cy="1010.3" r="7.3" fill="rgb(40,128,62)" fill-opacity="0.66"/><circle cx="1637.7" cy="1037.2" r="7.3" fill="rgb(40,128,62)" fill-opacity="0.66"/><circle cx="1660.0" cy="1051.5" r="7.3" fill="rgb(40,128,62)" fill-opacity="0.66"/><circle cx="1679.2" cy="1062.6" r="7.3" fill="rgb(40,128,62)" fill-opacity="0.66"/><circle cx="1686.5" cy="1065.3" r="7.3" fill="rgb(40,128,62)" fill-opacity="0.66"/><circle cx="1729.2" cy="1091.7" r="7.3" fill="rgb(40,128,62)" fill-opacity="0.66"/><circle cx="1750.9" cy="1104.2" r="7.3" fill="rgb(40,128,62)" fill-opacity="0.66"/><circle cx="1755.9" cy="1107.1" r="7.3" fill="rgb(40,128,62)" fill-opacity="0.66"/><circle cx="1759.0" cy="1105.0" r="7.3" fill="rgb(40,128,62)" fill-opacity="0.66"/><circle cx="1779.3" cy="1117.3" r="7.3" fill="rgb(40,128,62)" fill-opacity="0.66"/><circle cx="1799.0" cy="1131.9" r="7.3" fill="rgb(40,128,62)" fill-opacity="0.66"/><circle cx="1801.5" cy="1131.5" r="7.3" fill="rgb(40,128,62)" fill-opacity="0.66"/><circle cx="1547.7" cy="1009.4" r="7.3" fill="rgb(40,128,62)" fill-opacity="0.66"/><circle cx="1551.0" cy="1011.3" r="7.3" fill="rgb(40,128,62)" fill-opacity="0.66"/><circle cx="1669.4" cy="1079.6" r="7.3" fill="rgb(40,128,62)" fill-opacity="0.66"/><circle cx="1564.6" cy="1039.6" r="7.3" fill="rgb(40,128,62)" fill-opacity="0.66"/><circle cx="1592.3" cy="1056.3" r="7.3" fill="rgb(40,128,62)" fill-opacity="0.66"/><circle cx="1659.0" cy="1097.7" r="7.3" fill="rgb(40,128,62)" fill-opacity="0.66"/><circle cx="1686.7" cy="1112.0" r="7.3" fill="rgb(40,128,62)" fill-opacity="0.66"/><circle cx="1710.4" cy="1124.2" r="7.3" fill="rgb(40,128,62)" fill-opacity="0.66"/><circle cx="1713.8" cy="1130.0" r="7.3" fill="rgb(40,128,62)" fill-opacity="0.66"/><circle cx="1734.2" cy="1139.8" r="7.3" fill="rgb(40,128,62)" fill-opacity="0.66"/><circle cx="1760.9" cy="1155.2" r="7.3" fill="rgb(40,128,62)" fill-opacity="0.66"/><circle cx="1808.3" cy="1182.5" r="7.3" fill="rgb(40,128,62)" fill-opacity="0.66"/><circle cx="1651.3" cy="1113.7" r="7.3" fill="rgb(40,128,62)" fill-opacity="0.66"/><circle cx="1674.2" cy="1130.2" r="7.3" fill="rgb(40,128,62)" fill-opacity="0.66"/><circle cx="1680.9" cy="1130.3" r="7.3" fill="rgb(40,128,62)" fill-opacity="0.66"/><circle cx="1762.0" cy="1200.7" r="7.3" fill="rgb(40,128,62)" fill-opacity="0.66"/><circle cx="1631.4" cy="1148.3" r="7.3" fill="rgb(40,128,62)" fill-opacity="0.66"/><circle cx="1653.0" cy="1161.3" r="7.3" fill="rgb(40,128,62)" fill-opacity="0.66"/><circle cx="1677.3" cy="1178.2" r="7.3" fill="rgb(40,128,62)" fill-opacity="0.66"/></g>
<line x1="1950.0" y1="1101.0" x2="1362.9" y2="1087.7" stroke="#000" stroke-width="5.8" marker-start="url(#mK)" marker-end="url(#mK)"/>
<line x1="1658.1" y1="924.4" x2="1651.3" y2="1264.9" stroke="#000" stroke-width="5.8" marker-start="url(#mK)" marker-end="url(#mK)"/>
<path d="M128.6,920.8 C129.2,922.5 130.4,927.6 131.9,931.2 C133.4,934.8 135.1,939.0 137.4,942.2 C139.7,945.4 141.8,946.1 145.6,950.4 C149.4,954.7 154.8,961.1 160.0,968.0 C165.2,974.9 171.7,985.3 177.1,991.5 C182.5,997.7 185.1,999.7 192.2,1005.2 C199.3,1010.7 211.8,1018.5 219.6,1024.4 C227.4,1030.3 233.3,1034.9 238.8,1040.8 C244.3,1046.7 249.8,1054.8 252.5,1060.0 C255.2,1065.2 255.2,1067.7 254.7,1072.3 C254.2,1076.9 253.3,1081.7 249.7,1087.4 C246.1,1093.1 240.6,1100.2 233.3,1106.6 C226.0,1113.0 215.0,1119.4 205.9,1125.8 C196.8,1132.2 185.3,1139.5 178.5,1145.0 C171.7,1150.5 169.4,1151.3 164.8,1158.6 C160.2,1165.9 157.1,1177.4 151.1,1188.8 C145.1,1200.2 132.3,1220.7 128.6,1227.1 Z" fill="url(#pDO)" stroke="none"/>
<path d="M128.6,920.8 C129.2,922.5 130.4,927.6 131.9,931.2 C133.4,934.8 135.1,939.0 137.4,942.2 C139.7,945.4 141.8,946.1 145.6,950.4 C149.4,954.7 154.8,961.1 160.0,968.0 C165.2,974.9 171.7,985.3 177.1,991.5 C182.5,997.7 185.1,999.7 192.2,1005.2 C199.3,1010.7 211.8,1018.5 219.6,1024.4 C227.4,1030.3 233.3,1034.9 238.8,1040.8 C244.3,1046.7 249.8,1054.8 252.5,1060.0 C255.2,1065.2 255.2,1067.7 254.7,1072.3 C254.2,1076.9 253.3,1081.7 249.7,1087.4 C246.1,1093.1 240.6,1100.2 233.3,1106.6 C226.0,1113.0 215.0,1119.4 205.9,1125.8 C196.8,1132.2 185.3,1139.5 178.5,1145.0 C171.7,1150.5 169.4,1151.3 164.8,1158.6 C160.2,1165.9 157.1,1177.4 151.1,1188.8 C145.1,1200.2 132.3,1220.7 128.6,1227.1" fill="none" stroke="#7f7900" stroke-width="2.6" stroke-linejoin="round"/>
<path d="M128.6,920.8 C129.3,923.2 131.1,928.5 133.0,935.0 C134.9,941.5 137.2,950.8 140.0,960.0 C142.8,969.2 146.3,978.3 150.0,990.0 C153.7,1001.7 157.5,1016.5 162.0,1030.0 C166.5,1043.5 173.4,1061.9 177.1,1071.0 C180.8,1080.1 182.2,1079.7 184.0,1084.7 C185.8,1089.7 187.7,1095.6 188.1,1101.1 C188.5,1106.6 188.1,1112.0 186.7,1117.5 C185.3,1123.0 182.9,1128.0 179.9,1134.0 C176.9,1140.0 173.7,1145.0 168.9,1153.2 C164.1,1161.4 157.8,1171.0 151.1,1183.3 C144.4,1195.6 132.3,1219.8 128.6,1227.1 Z" fill="url(#pHT2)" stroke="none"/>
<path d="M128.6,920.8 C129.3,923.2 131.1,928.5 133.0,935.0 C134.9,941.5 137.2,950.8 140.0,960.0 C142.8,969.2 146.3,978.3 150.0,990.0 C153.7,1001.7 157.5,1016.5 162.0,1030.0 C166.5,1043.5 173.4,1061.9 177.1,1071.0 C180.8,1080.1 182.2,1079.7 184.0,1084.7 C185.8,1089.7 187.7,1095.6 188.1,1101.1 C188.5,1106.6 188.1,1112.0 186.7,1117.5 C185.3,1123.0 182.9,1128.0 179.9,1134.0 C176.9,1140.0 173.7,1145.0 168.9,1153.2 C164.1,1161.4 157.8,1171.0 151.1,1183.3 C144.4,1195.6 132.3,1219.8 128.6,1227.1" fill="none" stroke="#1e6b67" stroke-width="2.2" stroke-linejoin="round"/>
<path d="M128.6,935.3 C131.4,937.8 139.6,944.7 145.6,950.4 C151.6,956.1 158.9,962.3 164.8,969.6 C170.7,976.9 177.3,985.1 181.2,994.2 C185.1,1003.3 187.6,1014.8 188.1,1024.4 C188.6,1034.0 186.5,1042.7 184.0,1051.8 C181.5,1060.9 178.0,1068.7 173.0,1079.2 C168.0,1089.7 161.2,1100.7 153.8,1114.8 C146.4,1128.9 132.8,1155.9 128.6,1164.1 Z" fill="url(#pHR2)" stroke="none"/>
<path d="M128.6,935.3 C131.4,937.8 139.6,944.7 145.6,950.4 C151.6,956.1 158.9,962.3 164.8,969.6 C170.7,976.9 177.3,985.1 181.2,994.2 C185.1,1003.3 187.6,1014.8 188.1,1024.4 C188.6,1034.0 186.5,1042.7 184.0,1051.8 C181.5,1060.9 178.0,1068.7 173.0,1079.2 C168.0,1089.7 161.2,1100.7 153.8,1114.8 C146.4,1128.9 132.8,1155.9 128.6,1164.1" fill="none" stroke="#c06a62" stroke-width="2.2" stroke-linejoin="round"/>
<line x1="128.6" y1="920" x2="128.6" y2="1227.1" stroke="#4472c4" stroke-width="1.3"/>
<path d="M433.4,1530.3 C437.8,1528.5 450.3,1523.5 459.7,1519.3 C469.1,1515.1 479.6,1509.7 489.5,1505.2 C499.4,1500.7 509.3,1496.2 519.3,1492.4 C529.2,1488.6 539.2,1485.2 549.2,1482.6 C559.2,1480.0 570.0,1478.0 579.0,1476.9 C588.0,1475.8 595.4,1475.8 602.9,1476.0 C610.4,1476.2 615.2,1478.1 623.7,1478.1 C632.2,1478.1 641.2,1478.1 653.6,1476.0 C666.0,1473.9 683.4,1469.6 698.3,1465.6 C713.2,1461.6 728.2,1456.4 743.1,1452.1 C758.0,1447.8 776.9,1442.5 787.8,1439.6 C798.7,1436.7 801.0,1436.6 808.7,1434.8 C816.4,1433.0 826.1,1429.2 834.1,1428.9 C842.1,1428.6 849.3,1430.4 856.5,1432.8 C863.7,1435.2 868.8,1439.0 877.3,1443.2 C885.8,1447.4 897.2,1452.9 907.2,1458.1 C917.2,1463.3 927.1,1468.8 937.0,1474.5 C946.9,1480.2 956.8,1486.4 966.8,1492.4 C976.8,1498.4 988.2,1505.3 996.7,1510.3 C1005.2,1515.3 1011.8,1519.3 1017.5,1522.3 C1023.2,1525.2 1028.8,1527.0 1031.0,1528.0 L1031,1530.3 Z" fill="url(#pDO)" stroke="none"/>
<path d="M433.4,1530.3 C437.8,1528.5 450.3,1523.5 459.7,1519.3 C469.1,1515.1 479.6,1509.7 489.5,1505.2 C499.4,1500.7 509.3,1496.2 519.3,1492.4 C529.2,1488.6 539.2,1485.2 549.2,1482.6 C559.2,1480.0 570.0,1478.0 579.0,1476.9 C588.0,1475.8 595.4,1475.8 602.9,1476.0 C610.4,1476.2 615.2,1478.1 623.7,1478.1 C632.2,1478.1 641.2,1478.1 653.6,1476.0 C666.0,1473.9 683.4,1469.6 698.3,1465.6 C713.2,1461.6 728.2,1456.4 743.1,1452.1 C758.0,1447.8 776.9,1442.5 787.8,1439.6 C798.7,1436.7 801.0,1436.6 808.7,1434.8 C816.4,1433.0 826.1,1429.2 834.1,1428.9 C842.1,1428.6 849.3,1430.4 856.5,1432.8 C863.7,1435.2 868.8,1439.0 877.3,1443.2 C885.8,1447.4 897.2,1452.9 907.2,1458.1 C917.2,1463.3 927.1,1468.8 937.0,1474.5 C946.9,1480.2 956.8,1486.4 966.8,1492.4 C976.8,1498.4 988.2,1505.3 996.7,1510.3 C1005.2,1515.3 1011.8,1519.3 1017.5,1522.3 C1023.2,1525.2 1028.8,1527.0 1031.0,1528.0" fill="none" stroke="#7f7900" stroke-width="2.8" stroke-linejoin="round"/>
<path d="M566.5,1530.3 C575.4,1527.6 600.3,1519.5 620.0,1514.0 C639.7,1508.5 669.4,1501.3 684.9,1497.5 C700.4,1493.7 703.5,1493.7 713.2,1490.9 C722.9,1488.1 733.2,1485.2 743.1,1480.5 C753.0,1475.8 765.0,1468.1 772.9,1462.6 C780.8,1457.1 784.8,1452.2 790.8,1447.7 C796.8,1443.2 801.5,1438.8 808.7,1435.7 C815.9,1432.6 826.1,1429.4 834.1,1428.9 C842.1,1428.4 849.3,1430.4 856.5,1432.8 C863.7,1435.2 868.8,1439.0 877.3,1443.2 C885.8,1447.4 897.2,1452.9 907.2,1458.1 C917.2,1463.3 927.1,1468.8 937.0,1474.5 C946.9,1480.2 956.8,1486.4 966.8,1492.4 C976.8,1498.4 988.2,1505.3 996.7,1510.3 C1005.2,1515.3 1011.8,1519.6 1017.5,1522.3 C1023.2,1525.0 1028.8,1526.0 1031.0,1526.7 L1031,1530.3 Z" fill="url(#pVT2)" stroke="none"/>
<path d="M566.5,1530.3 C575.4,1527.6 600.3,1519.5 620.0,1514.0 C639.7,1508.5 669.4,1501.3 684.9,1497.5 C700.4,1493.7 703.5,1493.7 713.2,1490.9 C722.9,1488.1 733.2,1485.2 743.1,1480.5 C753.0,1475.8 765.0,1468.1 772.9,1462.6 C780.8,1457.1 784.8,1452.2 790.8,1447.7 C796.8,1443.2 801.5,1438.8 808.7,1435.7 C815.9,1432.6 826.1,1429.4 834.1,1428.9 C842.1,1428.4 849.3,1430.4 856.5,1432.8 C863.7,1435.2 868.8,1439.0 877.3,1443.2 C885.8,1447.4 897.2,1452.9 907.2,1458.1 C917.2,1463.3 927.1,1468.8 937.0,1474.5 C946.9,1480.2 956.8,1486.4 966.8,1492.4 C976.8,1498.4 988.2,1505.3 996.7,1510.3 C1005.2,1515.3 1011.8,1519.6 1017.5,1522.3 C1023.2,1525.0 1028.8,1526.0 1031.0,1526.7" fill="none" stroke="#1e6b67" stroke-width="2.2" stroke-linejoin="round"/>
<path d="M433.4,1530.3 C437.8,1528.5 450.3,1523.4 459.7,1519.3 C469.1,1515.2 479.6,1510.0 489.5,1505.8 C499.4,1501.6 509.3,1497.6 519.3,1493.9 C529.2,1490.2 539.2,1486.1 549.2,1483.5 C559.2,1480.9 571.0,1478.9 579.0,1478.1 C587.0,1477.2 591.9,1477.8 596.9,1478.4 C601.9,1479.1 601.8,1479.9 608.8,1482.0 C615.8,1484.1 628.8,1488.6 638.7,1490.9 C648.7,1493.2 658.6,1494.6 668.5,1496.0 C678.4,1497.4 688.3,1497.7 698.3,1499.3 C708.2,1500.9 718.2,1503.0 728.2,1505.8 C738.2,1508.6 747.7,1512.4 758.0,1516.3 C768.3,1520.2 784.8,1527.0 790.2,1529.1 Z" fill="url(#pVR2)" stroke="none"/>
<path d="M433.4,1530.3 C437.8,1528.5 450.3,1523.4 459.7,1519.3 C469.1,1515.2 479.6,1510.0 489.5,1505.8 C499.4,1501.6 509.3,1497.6 519.3,1493.9 C529.2,1490.2 539.2,1486.1 549.2,1483.5 C559.2,1480.9 571.0,1478.9 579.0,1478.1 C587.0,1477.2 591.9,1477.8 596.9,1478.4 C601.9,1479.1 601.8,1479.9 608.8,1482.0 C615.8,1484.1 628.8,1488.6 638.7,1490.9 C648.7,1493.2 658.6,1494.6 668.5,1496.0 C678.4,1497.4 688.3,1497.7 698.3,1499.3 C708.2,1500.9 718.2,1503.0 728.2,1505.8 C738.2,1508.6 747.7,1512.4 758.0,1516.3 C768.3,1520.2 784.8,1527.0 790.2,1529.1" fill="none" stroke="#c06a62" stroke-width="1.8" stroke-linejoin="round"/>
<line x1="433.4" y1="1530.8" x2="1031" y2="1530.8" stroke="#4472c4" stroke-width="1.3"/>
<path d="M1096.4,922.6 C1097.2,924.3 1098.6,928.5 1101.0,932.9 C1103.4,937.3 1106.9,944.4 1110.9,948.9 C1114.9,953.4 1119.2,955.2 1124.9,959.9 C1130.6,964.5 1136.5,969.3 1144.8,976.8 C1153.1,984.3 1164.8,995.1 1174.8,1004.7 C1184.8,1014.4 1197.1,1025.4 1204.7,1034.7 C1212.3,1044.0 1217.6,1053.9 1220.6,1060.6 C1223.6,1067.2 1223.6,1069.3 1222.6,1074.6 C1221.6,1079.9 1219.3,1086.2 1214.7,1092.5 C1210.1,1098.8 1203.0,1105.5 1194.7,1112.5 C1186.4,1119.5 1174.1,1127.4 1164.8,1134.4 C1155.5,1141.4 1145.2,1148.8 1138.9,1154.4 C1132.6,1160.1 1130.2,1163.3 1126.9,1168.3 C1123.6,1173.3 1124.0,1174.6 1118.9,1184.3 C1113.8,1194.0 1100.2,1219.2 1096.4,1226.2 Z" fill="#b0b0b0"/>
<path d="M1096.4,939.9 C1098.5,941.7 1104.2,946.4 1108.9,950.9 C1113.7,955.4 1119.6,960.5 1124.9,966.8 C1130.2,973.1 1136.2,980.8 1140.9,988.8 C1145.6,996.8 1150.5,1007.1 1152.8,1014.7 C1155.1,1022.4 1155.5,1027.1 1154.8,1034.7 C1154.1,1042.3 1152.1,1050.6 1148.8,1060.6 C1145.5,1070.6 1140.6,1082.2 1134.9,1094.5 C1129.2,1106.8 1121.3,1121.6 1114.9,1134.4 C1108.5,1147.2 1099.5,1165.2 1096.4,1171.3 Z" fill="#000" fill-opacity="0.27"/>
<path d="M1096.4,925.0 C1097.8,930.0 1101.9,943.9 1105.0,954.9 C1108.1,965.9 1111.6,979.2 1114.9,990.8 C1118.2,1002.4 1120.9,1014.1 1124.9,1024.7 C1128.9,1035.3 1134.6,1045.6 1138.9,1054.6 C1143.2,1063.6 1147.8,1070.2 1150.8,1078.5 C1153.8,1086.8 1156.3,1097.5 1156.8,1104.5 C1157.3,1111.5 1156.4,1112.8 1153.8,1120.4 C1151.2,1128.1 1145.7,1140.8 1140.9,1150.4 C1136.1,1160.1 1132.3,1165.7 1124.9,1178.3 C1117.5,1190.9 1101.2,1218.2 1096.4,1226.2 Z" fill="#000" fill-opacity="0.27"/>
<path d="M1096.4,939.9 C1098.5,941.7 1104.2,946.4 1108.9,950.9 C1113.7,955.4 1119.6,960.5 1124.9,966.8 C1130.2,973.1 1136.2,980.8 1140.9,988.8 C1145.6,996.8 1150.5,1007.1 1152.8,1014.7 C1155.1,1022.4 1155.5,1027.1 1154.8,1034.7 C1154.1,1042.3 1152.1,1050.6 1148.8,1060.6 C1145.5,1070.6 1140.6,1082.2 1134.9,1094.5 C1129.2,1106.8 1121.3,1121.6 1114.9,1134.4 C1108.5,1147.2 1099.5,1165.2 1096.4,1171.3" fill="none" stroke="#c8655c" stroke-width="1.8"/>
<path d="M1096.4,922.6 C1097.2,924.3 1098.6,928.5 1101.0,932.9 C1103.4,937.3 1106.9,944.4 1110.9,948.9 C1114.9,953.4 1119.2,955.2 1124.9,959.9 C1130.6,964.5 1136.5,969.3 1144.8,976.8 C1153.1,984.3 1164.8,995.1 1174.8,1004.7 C1184.8,1014.4 1197.1,1025.4 1204.7,1034.7 C1212.3,1044.0 1217.6,1053.9 1220.6,1060.6 C1223.6,1067.2 1223.6,1069.3 1222.6,1074.6 C1221.6,1079.9 1219.3,1086.2 1214.7,1092.5 C1210.1,1098.8 1203.0,1105.5 1194.7,1112.5 C1186.4,1119.5 1174.1,1127.4 1164.8,1134.4 C1155.5,1141.4 1145.2,1148.8 1138.9,1154.4 C1132.6,1160.1 1130.2,1163.3 1126.9,1168.3 C1123.6,1173.3 1124.0,1174.6 1118.9,1184.3 C1113.8,1194.0 1100.2,1219.2 1096.4,1226.2" fill="none" stroke="#857f00" stroke-width="2.4"/>
<path d="M1096.4,925.0 C1097.8,930.0 1101.9,943.9 1105.0,954.9 C1108.1,965.9 1111.6,979.2 1114.9,990.8 C1118.2,1002.4 1120.9,1014.1 1124.9,1024.7 C1128.9,1035.3 1134.6,1045.6 1138.9,1054.6 C1143.2,1063.6 1147.8,1070.2 1150.8,1078.5 C1153.8,1086.8 1156.3,1097.5 1156.8,1104.5 C1157.3,1111.5 1156.4,1112.8 1153.8,1120.4 C1151.2,1128.1 1145.7,1140.8 1140.9,1150.4 C1136.1,1160.1 1132.3,1165.7 1124.9,1178.3 C1117.5,1190.9 1101.2,1218.2 1096.4,1226.2" fill="none" stroke="#1a6e6a" stroke-width="2.4"/>
<line x1="1096.4" y1="922" x2="1096.4" y2="1226.2" stroke="#3a5a9a" stroke-width="1.5"/>
<path d="M1351.8,1513.9 C1360.8,1509.5 1389.8,1494.5 1405.5,1487.5 C1421.2,1480.5 1432.7,1476.1 1446.2,1472.0 C1459.8,1467.9 1474.6,1465.1 1486.8,1463.1 C1499.0,1461.1 1509.9,1460.0 1519.4,1459.8 C1528.9,1459.6 1532.3,1462.9 1543.8,1461.9 C1555.3,1461.0 1570.9,1458.3 1588.5,1454.1 C1606.1,1449.9 1629.2,1442.2 1649.6,1436.6 C1669.9,1431.0 1693.6,1423.8 1710.6,1420.4 C1727.5,1417.0 1741.1,1416.8 1751.3,1416.3 C1761.5,1415.8 1761.4,1413.7 1771.6,1417.1 C1781.8,1420.5 1795.3,1427.1 1812.3,1436.6 C1829.2,1446.1 1856.3,1463.9 1873.3,1474.0 C1890.2,1484.1 1903.7,1491.8 1914.0,1497.0 C1924.3,1502.2 1929.2,1502.9 1935.0,1505.5 C1940.8,1508.1 1946.3,1511.5 1948.6,1512.7 Z" fill="#b0b0b0"/>
<path d="M1351.8,1513.9 C1360.8,1509.5 1389.8,1494.6 1405.5,1487.5 C1421.2,1480.4 1432.7,1475.3 1446.2,1471.2 C1459.8,1467.1 1476.0,1464.6 1486.8,1463.1 C1497.6,1461.5 1504.4,1461.6 1511.2,1461.9 C1518.0,1462.2 1521.4,1463.4 1527.5,1465.1 C1533.6,1466.8 1537.7,1469.6 1547.9,1472.0 C1558.1,1474.4 1575.0,1477.4 1588.5,1479.3 C1602.0,1481.2 1615.6,1480.8 1629.2,1483.4 C1642.8,1486.0 1656.8,1489.9 1669.9,1494.8 C1683.0,1499.7 1701.4,1509.7 1707.7,1512.7 Z" fill="#000" fill-opacity="0.27"/>
<path d="M1484.0,1512.7 C1491.2,1510.5 1513.5,1503.9 1527.5,1499.7 C1541.5,1495.5 1554.6,1491.2 1568.2,1487.5 C1581.8,1483.8 1594.0,1481.7 1608.9,1477.3 C1623.8,1472.9 1644.2,1466.8 1657.7,1461.0 C1671.2,1455.2 1681.4,1448.1 1690.2,1442.7 C1699.0,1437.3 1703.8,1432.6 1710.6,1428.5 C1717.4,1424.4 1724.1,1420.9 1730.9,1418.3 C1737.7,1415.7 1744.5,1413.7 1751.3,1413.0 C1758.1,1412.3 1764.8,1412.7 1771.6,1414.3 C1778.4,1415.9 1781.8,1416.5 1792.0,1422.4 C1802.2,1428.4 1819.2,1440.7 1832.7,1450.0 C1846.2,1459.3 1859.8,1469.8 1873.3,1478.0 C1886.8,1486.2 1903.7,1494.2 1914.0,1499.0 C1924.3,1503.8 1929.2,1504.5 1935.0,1506.5 C1940.8,1508.5 1946.3,1510.0 1948.6,1510.7 Z" fill="#000" fill-opacity="0.27"/>
<path d="M1351.8,1513.9 C1360.8,1509.5 1389.8,1494.6 1405.5,1487.5 C1421.2,1480.4 1432.7,1475.3 1446.2,1471.2 C1459.8,1467.1 1476.0,1464.6 1486.8,1463.1 C1497.6,1461.5 1504.4,1461.6 1511.2,1461.9 C1518.0,1462.2 1521.4,1463.4 1527.5,1465.1 C1533.6,1466.8 1537.7,1469.6 1547.9,1472.0 C1558.1,1474.4 1575.0,1477.4 1588.5,1479.3 C1602.0,1481.2 1615.6,1480.8 1629.2,1483.4 C1642.8,1486.0 1656.8,1489.9 1669.9,1494.8 C1683.0,1499.7 1701.4,1509.7 1707.7,1512.7" fill="none" stroke="#c8655c" stroke-width="1.4"/>
<path d="M1351.8,1513.9 C1360.8,1509.5 1389.8,1494.5 1405.5,1487.5 C1421.2,1480.5 1432.7,1476.1 1446.2,1472.0 C1459.8,1467.9 1474.6,1465.1 1486.8,1463.1 C1499.0,1461.1 1509.9,1460.0 1519.4,1459.8 C1528.9,1459.6 1532.3,1462.9 1543.8,1461.9 C1555.3,1461.0 1570.9,1458.3 1588.5,1454.1 C1606.1,1449.9 1629.2,1442.2 1649.6,1436.6 C1669.9,1431.0 1693.6,1423.8 1710.6,1420.4 C1727.5,1417.0 1741.1,1416.8 1751.3,1416.3 C1761.5,1415.8 1761.4,1413.7 1771.6,1417.1 C1781.8,1420.5 1795.3,1427.1 1812.3,1436.6 C1829.2,1446.1 1856.3,1463.9 1873.3,1474.0 C1890.2,1484.1 1903.7,1491.8 1914.0,1497.0 C1924.3,1502.2 1929.2,1502.9 1935.0,1505.5 C1940.8,1508.1 1946.3,1511.5 1948.6,1512.7" fill="none" stroke="#857f00" stroke-width="2.4"/>
<path d="M1484.0,1512.7 C1491.2,1510.5 1513.5,1503.9 1527.5,1499.7 C1541.5,1495.5 1554.6,1491.2 1568.2,1487.5 C1581.8,1483.8 1594.0,1481.7 1608.9,1477.3 C1623.8,1472.9 1644.2,1466.8 1657.7,1461.0 C1671.2,1455.2 1681.4,1448.1 1690.2,1442.7 C1699.0,1437.3 1703.8,1432.6 1710.6,1428.5 C1717.4,1424.4 1724.1,1420.9 1730.9,1418.3 C1737.7,1415.7 1744.5,1413.7 1751.3,1413.0 C1758.1,1412.3 1764.8,1412.7 1771.6,1414.3 C1778.4,1415.9 1781.8,1416.5 1792.0,1422.4 C1802.2,1428.4 1819.2,1440.7 1832.7,1450.0 C1846.2,1459.3 1859.8,1469.8 1873.3,1478.0 C1886.8,1486.2 1903.7,1494.2 1914.0,1499.0 C1924.3,1503.8 1929.2,1504.5 1935.0,1506.5 C1940.8,1508.5 1946.3,1510.0 1948.6,1510.7" fill="none" stroke="#1a6e6a" stroke-width="2.4"/>
<line x1="1400" y1="1513.5" x2="1910" y2="1513.5" stroke="#3a5a9a" stroke-width="1.5"/>
<line x1="128.6" y1="922.5" x2="716.0" y2="922.5" stroke="#4472c4" stroke-width="1.4" stroke-dasharray="4.4,2.7"/>
<line x1="128.6" y1="936.3" x2="626.0" y2="936.3" stroke="#ff0000" stroke-width="1.4" stroke-dasharray="4.4,2.7"/>
<line x1="128.6" y1="1164.1" x2="614.0" y2="1164.1" stroke="#ff0000" stroke-width="1.4" stroke-dasharray="4.4,2.7"/>
<line x1="128.6" y1="1227.1" x2="894.0" y2="1227.1" stroke="#4472c4" stroke-width="1.4" stroke-dasharray="4.4,2.7"/>
<line x1="433.6" y1="1085.0" x2="433.6" y2="1530.3" stroke="#ff0000" stroke-width="1.4" stroke-dasharray="4.4,2.7"/>
<line x1="566.5" y1="1022.0" x2="566.5" y2="1530.3" stroke="#4472c4" stroke-width="1.4" stroke-dasharray="4.4,2.7"/>
<line x1="790.3" y1="1030.0" x2="790.3" y2="1530.3" stroke="#ff0000" stroke-width="1.4" stroke-dasharray="4.4,2.7"/>
<line x1="1031.0" y1="1133.0" x2="1031.0" y2="1530.3" stroke="#4472c4" stroke-width="1.4" stroke-dasharray="4.4,2.7"/>
<line x1="1096.4" y1="923.4" x2="1645.0" y2="923.4" stroke="#4472c4" stroke-width="1.4" stroke-dasharray="4.4,2.7"/>
<line x1="1096.4" y1="940.5" x2="1552.0" y2="940.5" stroke="#ff0000" stroke-width="1.4" stroke-dasharray="4.4,2.7"/>
<line x1="1096.4" y1="1167.3" x2="1528.0" y2="1167.3" stroke="#ff0000" stroke-width="1.4" stroke-dasharray="4.4,2.7"/>
<line x1="1096.4" y1="1228.2" x2="1792.0" y2="1228.2" stroke="#4472c4" stroke-width="1.4" stroke-dasharray="4.4,2.7"/>
<line x1="1351.8" y1="1088.0" x2="1351.8" y2="1512.7" stroke="#ff0000" stroke-width="1.4" stroke-dasharray="4.4,2.7"/>
<line x1="1484.0" y1="1025.0" x2="1484.0" y2="1512.7" stroke="#4472c4" stroke-width="1.4" stroke-dasharray="4.4,2.7"/>
<line x1="1707.7" y1="1030.0" x2="1707.7" y2="1512.7" stroke="#ff0000" stroke-width="1.4" stroke-dasharray="4.4,2.7"/>
<line x1="1948.6" y1="1130.0" x2="1948.6" y2="1512.7" stroke="#4472c4" stroke-width="1.4" stroke-dasharray="4.4,2.7"/>
<g font-family="Liberation Serif, serif"><text transform="translate(513.5,1566.9) rotate(0)" x="-13.6" y="12.7" font-size="38.9" font-style="italic">D</text><text transform="translate(531.6,1578.0) rotate(0)" x="-7.5" y="8.8" font-size="26.8" font-style="italic">A</text><text transform="translate(563.5,1566.9) rotate(0)" x="-11.4" y="12.7" font-size="38.9" font-style="italic">E</text><text transform="translate(582.1,1577.9) rotate(0)" x="-9.8" y="8.7" font-size="26.8" font-style="italic">C</text><text transform="translate(595.0,1586.5) rotate(0)" x="-5.2" y="6.5" font-size="19.7" >1</text></g>
<g font-family="Liberation Serif, serif"><text transform="translate(817.1,1567.2) rotate(0)" x="-13.6" y="12.7" font-size="38.9" font-style="italic">D</text><text transform="translate(835.2,1578.3) rotate(0)" x="-8.0" y="8.7" font-size="26.8" font-style="italic">B</text><text transform="translate(867.1,1567.2) rotate(0)" x="-11.4" y="12.7" font-size="38.9" font-style="italic">E</text><text transform="translate(885.8,1578.2) rotate(0)" x="-9.8" y="8.7" font-size="26.8" font-style="italic">C</text><text transform="translate(898.6,1586.8) rotate(0)" x="-5.2" y="6.5" font-size="19.7" >1</text></g>
<g font-family="Liberation Serif, serif"><text transform="translate(673.2,1408.2) rotate(0)" x="-13.6" y="12.7" font-size="38.9" font-style="italic">D</text><text transform="translate(691.4,1419.3) rotate(0)" x="-9.8" y="8.7" font-size="26.8" font-style="italic">C</text><text transform="translate(723.2,1408.2) rotate(0)" x="-11.4" y="12.7" font-size="38.9" font-style="italic">E</text><text transform="translate(741.9,1419.2) rotate(0)" x="-9.8" y="8.7" font-size="26.8" font-style="italic">C</text><text transform="translate(754.8,1427.8) rotate(0)" x="-5.2" y="6.5" font-size="19.7" >1</text></g>
<g font-family="Liberation Serif, serif"><text transform="translate(206.2,887.4) rotate(90)" x="-13.6" y="12.7" font-size="38.9" font-style="italic">D</text><text transform="translate(195.1,905.5) rotate(90)" x="-7.5" y="8.8" font-size="26.8" font-style="italic">A</text><text transform="translate(206.2,937.4) rotate(90)" x="-11.4" y="12.7" font-size="38.9" font-style="italic">E</text><text transform="translate(195.2,956.0) rotate(90)" x="-9.8" y="8.7" font-size="26.8" font-style="italic">C</text><text transform="translate(186.6,968.9) rotate(90)" x="-4.8" y="6.5" font-size="19.7" >2</text></g>
<g font-family="Liberation Serif, serif"><text transform="translate(293.5,1048.5) rotate(90)" x="-13.6" y="12.7" font-size="38.9" font-style="italic">D</text><text transform="translate(282.4,1066.7) rotate(90)" x="-9.8" y="8.7" font-size="26.8" font-style="italic">C</text><text transform="translate(293.5,1098.5) rotate(90)" x="-11.4" y="12.7" font-size="38.9" font-style="italic">E</text><text transform="translate(282.5,1117.2) rotate(90)" x="-9.8" y="8.7" font-size="26.8" font-style="italic">C</text><text transform="translate(273.9,1130.0) rotate(90)" x="-4.8" y="6.5" font-size="19.7" >2</text></g>
<g font-family="Liberation Serif, serif"><text transform="translate(172.8,1219.5) rotate(90)" x="-13.6" y="12.7" font-size="38.9" font-style="italic">D</text><text transform="translate(161.7,1237.7) rotate(90)" x="-8.0" y="8.7" font-size="26.8" font-style="italic">B</text><text transform="translate(172.8,1269.5) rotate(90)" x="-11.4" y="12.7" font-size="38.9" font-style="italic">E</text><text transform="translate(161.8,1288.2) rotate(90)" x="-9.8" y="8.7" font-size="26.8" font-style="italic">C</text><text transform="translate(153.2,1301.0) rotate(90)" x="-4.8" y="6.5" font-size="19.7" >2</text></g>
<text font-family="Liberation Serif, serif" filter="url(#sh)"><tspan x="562.4" y="866.2" font-size="40.0" font-weight="bold" font-style="italic">D</tspan><tspan x="589.7" y="873.6" font-size="28.1" font-weight="bold" font-style="italic">C</tspan></text>
<text font-family="Liberation Serif, serif" filter="url(#sh)"><tspan x="1264.2" y="1052.2" font-size="39.3" font-weight="bold" font-style="italic">δ</tspan><tspan x="1284.6" y="1058.6" font-size="27.3" font-weight="bold">2</tspan></text>
<text font-family="Liberation Serif, serif" filter="url(#sh)"><tspan x="1733.5" y="1351.4" font-size="38.0" font-weight="bold" font-style="italic">δ</tspan><tspan x="1754.4" y="1359.9" font-size="28.5" font-weight="bold">1</tspan></text>
<path d="M739,906.8 C737,872 690,856 615,854.5" fill="none" stroke="#4472c4" stroke-width="1.2" marker-end="url(#mL)"/>
<path d="M1110.9,1085.5 C1150,1083 1180,1075 1184,1062 C1188,1048 1212,1041 1256.6,1038.7" fill="none" stroke="#4472c4" stroke-width="1.2" marker-end="url(#mL)"/>
<path d="M1104.3,1096.5 C1110,1300 1125,1440 1165,1447 C1200,1452 1222,1490 1224.4,1562" fill="none" stroke="#4472c4" stroke-width="1.2" marker-end="url(#mL)"/>
<path d="M1619,1495.6 C1620,1420 1662,1348 1727.7,1340.4" fill="none" stroke="#4472c4" stroke-width="1.2" marker-end="url(#mL)"/>
<path d="M1613,1495.6 C1640,1496 1658,1500 1661,1520" fill="none" stroke="#1f3864" stroke-width="1.3"/>
<path d="M1661,1520 C1664,1540 1700,1541 1730,1545 C1748,1548 1756,1555 1759.4,1566" fill="none" stroke="#4472c4" stroke-width="1.2" marker-end="url(#mL)"/>
<path d="M1030.2,1602.3 C1030,1590 1050,1583 1090,1583 L1190,1583 C1215,1583 1225,1575 1225.5,1560 C1226,1575 1236,1583 1262,1583 L1362,1583 C1390,1583 1396,1592 1396.5,1602.3" fill="none" stroke="#4472c4" stroke-width="1.3"/>
<path d="M1562,1604.5 C1562,1592 1580,1585.5 1620,1585.5 L1725,1585.5 C1750,1585.5 1759,1578 1760,1562.7 C1761,1578 1770,1585.5 1795,1585.5 L1900,1585.5 C1930,1585.5 1936,1595 1936.4,1604.5" fill="none" stroke="#4472c4" stroke-width="1.3"/>
<text font-family="Liberation Serif, serif"><tspan x="933.9" y="1647.5" font-size="41.2" font-weight="bold" font-style="italic">Δ</tspan><tspan x="971.5" y="1647.5" font-size="53.5" >=</tspan><tspan x="1022.5" y="1647.5" font-size="41.2" font-weight="bold" font-style="italic">O</tspan><tspan x="1046.0" y="1647.5" font-size="41.2" font-weight="bold" font-style="italic">V</tspan><tspan x="1080.3" y="1647.5" font-size="41.2" font-weight="bold" font-style="italic">L</tspan><tspan x="1106.5" y="1647.5" font-size="42.3" >(</tspan><tspan x="1122.7" y="1647.5" font-size="41.2" font-weight="bold" font-style="italic">D</tspan><tspan x="1152.9" y="1656.8" font-size="31.0" font-weight="bold" font-style="italic">A</tspan><tspan x="1181.8" y="1647.5" font-size="41.2" font-weight="bold" font-style="italic">E</tspan><tspan x="1210.2" y="1656.8" font-size="31.0" font-weight="bold" font-style="italic">C</tspan><tspan x="1230.5" y="1662.4" font-size="26.0" font-weight="bold">2</tspan><tspan x="1245.4" y="1647.5" font-size="41.2" font-weight="bold">,</tspan><tspan x="1263.4" y="1647.5" font-size="41.2" font-weight="bold" font-style="italic">D</tspan><tspan x="1295.8" y="1656.8" font-size="31.0" font-weight="bold" font-style="italic">B</tspan><tspan x="1328.3" y="1647.5" font-size="41.2" font-weight="bold" font-style="italic">E</tspan><tspan x="1353.2" y="1656.8" font-size="31.0" font-weight="bold" font-style="italic">C</tspan><tspan x="1373.5" y="1662.4" font-size="26.0" font-weight="bold">2</tspan><tspan x="1391.9" y="1647.5" font-size="42.3" >)</tspan><tspan x="1416.8" y="1647.5" font-size="55.8" >×</tspan><tspan x="1459.7" y="1647.5" font-size="41.2" font-weight="bold" font-style="italic">λ</tspan><tspan x="1482.4" y="1656.8" font-size="29.0" font-weight="bold">2</tspan><tspan x="1518.0" y="1647.5" font-size="55.9" >+</tspan><tspan x="1557.7" y="1647.5" font-size="41.2" font-weight="bold" font-style="italic">O</tspan><tspan x="1582.1" y="1647.5" font-size="41.2" font-weight="bold" font-style="italic">V</tspan><tspan x="1615.5" y="1647.5" font-size="41.2" font-weight="bold" font-style="italic">L</tspan><tspan x="1643.4" y="1647.5" font-size="42.3" >(</tspan><tspan x="1658.4" y="1647.5" font-size="41.2" font-weight="bold" font-style="italic">D</tspan><tspan x="1689.3" y="1656.8" font-size="31.0" font-weight="bold" font-style="italic">A</tspan><tspan x="1718.9" y="1647.5" font-size="41.2" font-weight="bold" font-style="italic">E</tspan><tspan x="1746.0" y="1656.8" font-size="31.0" font-weight="bold" font-style="italic">C</tspan><tspan x="1766.5" y="1662.4" font-size="26.0" font-weight="bold">1</tspan><tspan x="1783.4" y="1647.5" font-size="41.2" font-weight="bold">,</tspan><tspan x="1800.6" y="1647.5" font-size="41.2" font-weight="bold" font-style="italic">D</tspan><tspan x="1831.8" y="1656.8" font-size="31.0" font-weight="bold" font-style="italic">B</tspan><tspan x="1864.6" y="1647.5" font-size="41.2" font-weight="bold" font-style="italic">E</tspan><tspan x="1890.4" y="1656.8" font-size="31.0" font-weight="bold" font-style="italic">C</tspan><tspan x="1910.4" y="1662.4" font-size="26.0" font-weight="bold">1</tspan><tspan x="1927.8" y="1647.5" font-size="42.3" >)</tspan><tspan x="1953.7" y="1647.5" font-size="53.6" >×</tspan><tspan x="1996.9" y="1647.5" font-size="41.2" font-weight="bold" font-style="italic">λ</tspan><tspan x="2018.1" y="1656.8" font-size="29.0" font-weight="bold">1</tspan></text>
</svg></body></html>
